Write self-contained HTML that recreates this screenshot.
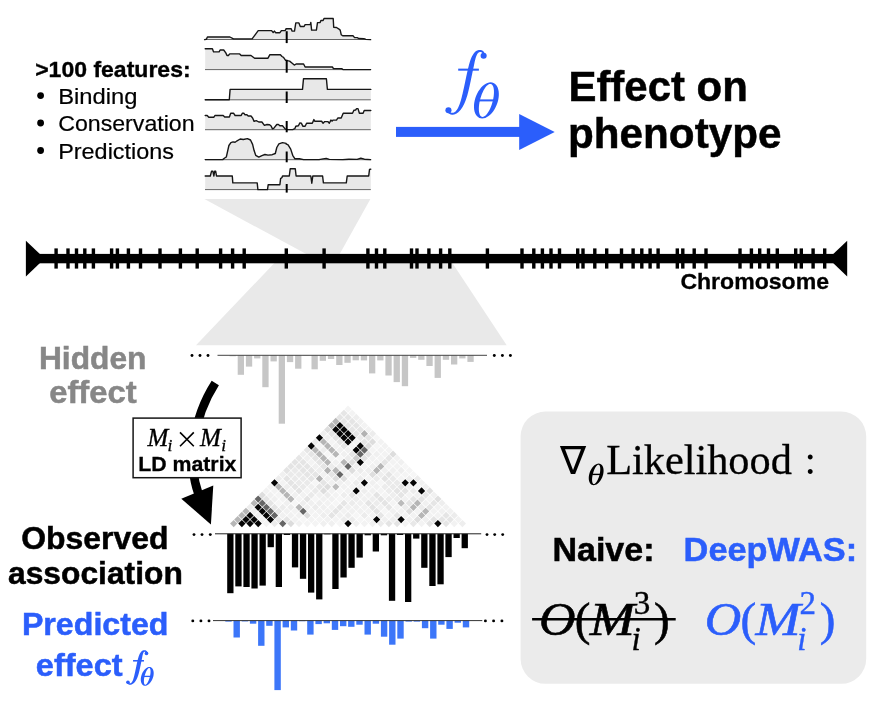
<!DOCTYPE html>
<html><head><meta charset="utf-8"><title>DeepWAS overview</title>
<style>html,body{margin:0;padding:0;background:#fff;}svg{display:block;will-change:transform;}text{white-space:pre;}</style></head><body>
<svg width="873" height="707" viewBox="0 0 873 707">
<rect x="0" y="0" width="873" height="707" fill="#fff"/>
<!-- funnels -->
<polygon points="204.4,199.1 370.4,199.1 337.2,258.5 314.6,258.5" fill="#e9e9e9"/>
<polygon points="278.7,258.5 449.4,258.5 506.7,345.2 196,345.2" fill="#e9e9e9"/>
<!-- tracks -->
<path d="M204.6,39.6 L206.4,39.3 L207.4,37.0 L229.9,37.0 L233.5,38.9 L252.1,38.9 L258.2,30.6 L271.6,30.6 L273.2,32.5 L274.4,31.1 L275.8,32.7 L279.9,32.7 L281.4,30.6 L285.1,30.6 L286.1,28.8 L286.0,28.8 L291.2,28.8 L292.0,31.1 L294.5,31.1 L295.8,22.9 L298.9,22.9 L300.3,26.5 L304.1,26.5 L305.1,24.6 L310.3,24.6 L310.8,22.4 L311.6,30.1 L316.4,30.1 L317.5,22.6 L320.1,22.6 L320.9,20.5 L323.1,20.5 L324.0,18.5 L333.2,18.5 L333.7,27.3 L336.5,27.5 L338.6,28.8 L340.2,30.1 L341.2,34.7 L342.7,35.8 L353.0,35.8 L354.6,37.6 L357.2,37.6 L358.7,38.5 L363.9,38.7 L365.9,39.4 L370.6,39.6 L370.6,39.5 L204.6,39.5 Z" fill="#e8e8e8" stroke="none"/>
<line x1="205.0" y1="39.5" x2="370.8" y2="39.5" stroke="#555" stroke-width="0.9"/>
<path d="M204.6,39.6 L206.4,39.3 L207.4,37.0 L229.9,37.0 L233.5,38.9 L252.1,38.9 L258.2,30.6 L271.6,30.6 L273.2,32.5 L274.4,31.1 L275.8,32.7 L279.9,32.7 L281.4,30.6 L285.1,30.6 L286.1,28.8 L286.0,28.8 L291.2,28.8 L292.0,31.1 L294.5,31.1 L295.8,22.9 L298.9,22.9 L300.3,26.5 L304.1,26.5 L305.1,24.6 L310.3,24.6 L310.8,22.4 L311.6,30.1 L316.4,30.1 L317.5,22.6 L320.1,22.6 L320.9,20.5 L323.1,20.5 L324.0,18.5 L333.2,18.5 L333.7,27.3 L336.5,27.5 L338.6,28.8 L340.2,30.1 L341.2,34.7 L342.7,35.8 L353.0,35.8 L354.6,37.6 L357.2,37.6 L358.7,38.5 L363.9,38.7 L365.9,39.4 L370.6,39.6" fill="none" stroke="#161616" stroke-width="1.4" stroke-linejoin="round" stroke-linecap="round"/>
<path d="M205.2,48.8 L212.4,48.8 L213.6,51.9 L219.1,51.9 L220.1,50.0 L223.7,50.0 L225.8,52.9 L227.0,55.5 L228.4,55.5 L229.7,53.9 L239.7,53.9 L241.2,55.5 L251.0,55.5 L254.6,58.2 L268.0,58.2 L269.9,54.7 L280.4,54.7 L282.0,56.5 L283.5,57.3 L285.6,60.3 L287.1,60.6 L289.6,61.1 L292.2,63.2 L294.3,65.1 L296.1,64.0 L303.6,64.0 L305.1,67.0 L332.4,67.0 L333.5,68.6 L341.7,68.6 L342.9,69.5 L370.6,69.6 L370.6,69.6 L205.2,69.6 Z" fill="#e8e8e8" stroke="none"/>
<line x1="205.0" y1="69.6" x2="370.8" y2="69.6" stroke="#555" stroke-width="0.9"/>
<path d="M205.2,48.8 L212.4,48.8 L213.6,51.9 L219.1,51.9 L220.1,50.0 L223.7,50.0 L225.8,52.9 L227.0,55.5 L228.4,55.5 L229.7,53.9 L239.7,53.9 L241.2,55.5 L251.0,55.5 L254.6,58.2 L268.0,58.2 L269.9,54.7 L280.4,54.7 L282.0,56.5 L283.5,57.3 L285.6,60.3 L287.1,60.6 L289.6,61.1 L292.2,63.2 L294.3,65.1 L296.1,64.0 L303.6,64.0 L305.1,67.0 L332.4,67.0 L333.5,68.6 L341.7,68.6 L342.9,69.5 L370.6,69.6" fill="none" stroke="#161616" stroke-width="1.4" stroke-linejoin="round" stroke-linecap="round"/>
<path d="M205.2,99.8 L229.3,99.8 L230.1,89.4 L302.5,89.4 L303.5,78.7 L326.4,78.7 L327.4,89.4 L370.8,89.4 L370.8,99.8 L205.2,99.8 Z" fill="#e8e8e8" stroke="none"/>
<line x1="205.0" y1="99.8" x2="370.8" y2="99.8" stroke="#555" stroke-width="0.9"/>
<path d="M205.2,99.8 L229.3,99.8 L230.1,89.4 L302.5,89.4 L303.5,78.7 L326.4,78.7 L327.4,89.4 L370.8,89.4" fill="none" stroke="#161616" stroke-width="1.4" stroke-linejoin="round" stroke-linecap="round"/>
<path d="M205.2,115.5 L207.2,115.5 L208.8,117.2 L213.9,117.2 L214.9,115.5 L223.2,115.5 L224.7,117.0 L229.4,117.0 L230.7,113.2 L233.5,113.2 L235.1,115.5 L241.2,115.5 L242.3,113.2 L243.8,113.2 L244.8,114.7 L246.9,114.7 L248.2,116.0 L251.0,116.0 L252.6,118.0 L254.1,121.4 L256.2,120.6 L258.8,122.0 L261.9,122.0 L264.4,125.3 L267.0,124.5 L269.6,124.7 L271.1,126.0 L272.5,128.9 L273.7,128.4 L276.8,124.5 L278.4,124.5 L279.9,125.8 L282.5,125.8 L285.1,128.9 L286.6,129.6 L287.1,129.6 L292.7,129.6 L294.8,128.7 L295.8,126.3 L298.4,125.8 L299.9,122.9 L301.3,123.2 L303.0,126.3 L305.1,126.3 L306.6,123.2 L312.3,123.2 L313.9,119.6 L314.9,121.3 L321.6,121.3 L323.1,123.2 L324.7,121.6 L327.8,121.6 L329.3,123.2 L330.9,120.1 L332.2,121.1 L332.9,120.1 L336.5,120.1 L337.8,118.0 L341.2,118.0 L343.2,113.2 L352.5,113.2 L353.9,110.3 L355.6,110.0 L356.6,108.6 L358.0,108.6 L359.4,113.2 L363.1,113.2 L364.2,110.5 L370.8,110.5 L370.8,129.7 L205.2,129.7 Z" fill="#e8e8e8" stroke="none"/>
<line x1="205.0" y1="129.7" x2="370.8" y2="129.7" stroke="#555" stroke-width="0.9"/>
<path d="M205.2,115.5 L207.2,115.5 L208.8,117.2 L213.9,117.2 L214.9,115.5 L223.2,115.5 L224.7,117.0 L229.4,117.0 L230.7,113.2 L233.5,113.2 L235.1,115.5 L241.2,115.5 L242.3,113.2 L243.8,113.2 L244.8,114.7 L246.9,114.7 L248.2,116.0 L251.0,116.0 L252.6,118.0 L254.1,121.4 L256.2,120.6 L258.8,122.0 L261.9,122.0 L264.4,125.3 L267.0,124.5 L269.6,124.7 L271.1,126.0 L272.5,128.9 L273.7,128.4 L276.8,124.5 L278.4,124.5 L279.9,125.8 L282.5,125.8 L285.1,128.9 L286.6,129.6 L287.1,129.6 L292.7,129.6 L294.8,128.7 L295.8,126.3 L298.4,125.8 L299.9,122.9 L301.3,123.2 L303.0,126.3 L305.1,126.3 L306.6,123.2 L312.3,123.2 L313.9,119.6 L314.9,121.3 L321.6,121.3 L323.1,123.2 L324.7,121.6 L327.8,121.6 L329.3,123.2 L330.9,120.1 L332.2,121.1 L332.9,120.1 L336.5,120.1 L337.8,118.0 L341.2,118.0 L343.2,113.2 L352.5,113.2 L353.9,110.3 L355.6,110.0 L356.6,108.6 L358.0,108.6 L359.4,113.2 L363.1,113.2 L364.2,110.5 L370.8,110.5" fill="none" stroke="#161616" stroke-width="1.4" stroke-linejoin="round" stroke-linecap="round"/>
<path d="M205.2,159.6 L222.7,159.6 L224.7,158.0 L226.3,157.0 L227.3,152.7 L228.9,145.5 L230.9,142.6 L233.0,141.9 L235.1,142.2 L237.1,140.8 L240.2,139.0 L243.3,139.5 L247.4,138.6 L250.5,140.0 L252.6,144.4 L254.1,150.6 L255.7,155.3 L258.8,157.1 L261.9,155.6 L264.9,154.5 L268.0,155.1 L272.2,154.7 L275.3,153.5 L276.8,147.5 L278.9,143.9 L282.5,142.6 L286.1,143.4 L286.0,143.9 L288.1,144.9 L290.7,149.1 L292.7,155.3 L294.8,158.7 L299.4,158.7 L303.6,159.6 L319.0,159.6 L323.1,158.9 L326.2,158.4 L329.3,159.4 L342.7,159.6 L348.9,159.2 L357.2,159.4 L360.8,158.1 L364.4,159.2 L370.6,159.6 L370.6,159.7 L205.2,159.7 Z" fill="#e8e8e8" stroke="none"/>
<line x1="205.0" y1="159.7" x2="370.8" y2="159.7" stroke="#555" stroke-width="0.9"/>
<path d="M205.2,159.6 L222.7,159.6 L224.7,158.0 L226.3,157.0 L227.3,152.7 L228.9,145.5 L230.9,142.6 L233.0,141.9 L235.1,142.2 L237.1,140.8 L240.2,139.0 L243.3,139.5 L247.4,138.6 L250.5,140.0 L252.6,144.4 L254.1,150.6 L255.7,155.3 L258.8,157.1 L261.9,155.6 L264.9,154.5 L268.0,155.1 L272.2,154.7 L275.3,153.5 L276.8,147.5 L278.9,143.9 L282.5,142.6 L286.1,143.4 L286.0,143.9 L288.1,144.9 L290.7,149.1 L292.7,155.3 L294.8,158.7 L299.4,158.7 L303.6,159.6 L319.0,159.6 L323.1,158.9 L326.2,158.4 L329.3,159.4 L342.7,159.6 L348.9,159.2 L357.2,159.4 L360.8,158.1 L364.4,159.2 L370.6,159.6" fill="none" stroke="#161616" stroke-width="1.4" stroke-linejoin="round" stroke-linecap="round"/>
<path d="M205.2,176.0 L210.3,176.0 L211.5,171.3 L212.9,171.3 L213.9,176.0 L214.6,171.3 L215.7,171.3 L216.5,176.0 L232.3,176.0 L232.8,182.9 L257.2,182.9 L257.9,189.6 L267.5,189.6 L268.2,184.7 L279.9,184.7 L280.6,178.6 L282.0,177.5 L282.5,176.0 L285.0,176.0 L289.3,176.0 L290.2,168.8 L295.3,168.8 L296.1,176.0 L310.8,176.0 L311.8,183.2 L312.8,176.0 L322.6,176.0 L323.4,182.9 L346.3,182.9 L347.2,176.0 L368.7,176.0 L369.5,169.5 L370.8,169.1 L370.8,189.6 L205.2,189.6 Z" fill="#e8e8e8" stroke="none"/>
<line x1="205.0" y1="189.6" x2="370.8" y2="189.6" stroke="#555" stroke-width="0.9"/>
<path d="M205.2,176.0 L210.3,176.0 L211.5,171.3 L212.9,171.3 L213.9,176.0 L214.6,171.3 L215.7,171.3 L216.5,176.0 L232.3,176.0 L232.8,182.9 L257.2,182.9 L257.9,189.6 L267.5,189.6 L268.2,184.7 L279.9,184.7 L280.6,178.6 L282.0,177.5 L282.5,176.0 L285.0,176.0 L289.3,176.0 L290.2,168.8 L295.3,168.8 L296.1,176.0 L310.8,176.0 L311.8,183.2 L312.8,176.0 L322.6,176.0 L323.4,182.9 L346.3,182.9 L347.2,176.0 L368.7,176.0 L369.5,169.5 L370.8,169.1" fill="none" stroke="#161616" stroke-width="1.4" stroke-linejoin="round" stroke-linecap="round"/>
<line x1="286.7" y1="31.2" x2="286.7" y2="43.1" stroke="#000" stroke-width="2"/>
<line x1="286.7" y1="59.8" x2="286.7" y2="72.7" stroke="#000" stroke-width="2"/>
<line x1="286.7" y1="91.5" x2="286.7" y2="103.0" stroke="#000" stroke-width="2"/>
<line x1="286.7" y1="121.0" x2="286.7" y2="132.3" stroke="#000" stroke-width="2"/>
<line x1="286.7" y1="151.5" x2="286.7" y2="162.3" stroke="#000" stroke-width="2"/>
<line x1="286.7" y1="184.0" x2="286.7" y2="192.6" stroke="#000" stroke-width="2"/>
<!-- chromosome -->
<rect x="36" y="253.9" width="800" height="9.4" fill="#000"/>
<polygon points="25.9,240.7 44.7,258.6 25.9,276.6" fill="#000"/>
<polygon points="847.2,240.7 828.4,258.6 847.2,276.6" fill="#000"/>
<rect x="54.4" y="248.4" width="3.4" height="20.2" fill="#000"/>
<rect x="66.3" y="248.4" width="3.4" height="20.2" fill="#000"/>
<rect x="74.8" y="248.4" width="3.4" height="20.2" fill="#000"/>
<rect x="83.1" y="248.4" width="3.4" height="20.2" fill="#000"/>
<rect x="91.7" y="248.4" width="3.4" height="20.2" fill="#000"/>
<rect x="109.9" y="248.4" width="3.4" height="20.2" fill="#000"/>
<rect x="115.7" y="248.4" width="3.4" height="20.2" fill="#000"/>
<rect x="126.7" y="248.4" width="3.4" height="20.2" fill="#000"/>
<rect x="138.8" y="248.4" width="3.4" height="20.2" fill="#000"/>
<rect x="158.3" y="248.4" width="3.4" height="20.2" fill="#000"/>
<rect x="178.7" y="248.4" width="3.4" height="20.2" fill="#000"/>
<rect x="195.5" y="248.4" width="3.4" height="20.2" fill="#000"/>
<rect x="218.9" y="248.4" width="3.4" height="20.2" fill="#000"/>
<rect x="230.9" y="248.4" width="3.4" height="20.2" fill="#000"/>
<rect x="242.5" y="248.4" width="3.4" height="20.2" fill="#000"/>
<rect x="284.6" y="248.4" width="3.4" height="20.2" fill="#000"/>
<rect x="322.4" y="248.4" width="3.4" height="20.2" fill="#000"/>
<rect x="366.2" y="248.4" width="3.4" height="20.2" fill="#000"/>
<rect x="374.8" y="248.4" width="3.4" height="20.2" fill="#000"/>
<rect x="383.1" y="248.4" width="3.4" height="20.2" fill="#000"/>
<rect x="409.8" y="248.4" width="3.4" height="20.2" fill="#000"/>
<rect x="415.3" y="248.4" width="3.4" height="20.2" fill="#000"/>
<rect x="427.2" y="248.4" width="3.4" height="20.2" fill="#000"/>
<rect x="438.9" y="248.4" width="3.4" height="20.2" fill="#000"/>
<rect x="448.1" y="248.4" width="3.4" height="20.2" fill="#000"/>
<rect x="485.7" y="248.4" width="3.4" height="20.2" fill="#000"/>
<rect x="520.3" y="248.4" width="3.4" height="20.2" fill="#000"/>
<rect x="532.1" y="248.4" width="3.4" height="20.2" fill="#000"/>
<rect x="540.7" y="248.4" width="3.4" height="20.2" fill="#000"/>
<rect x="549.3" y="248.4" width="3.4" height="20.2" fill="#000"/>
<rect x="557.8" y="248.4" width="3.4" height="20.2" fill="#000"/>
<rect x="576.0" y="248.4" width="3.4" height="20.2" fill="#000"/>
<rect x="581.3" y="248.4" width="3.4" height="20.2" fill="#000"/>
<rect x="593.1" y="248.4" width="3.4" height="20.2" fill="#000"/>
<rect x="605.0" y="248.4" width="3.4" height="20.2" fill="#000"/>
<rect x="619.8" y="248.4" width="3.4" height="20.2" fill="#000"/>
<rect x="631.4" y="248.4" width="3.4" height="20.2" fill="#000"/>
<rect x="640.1" y="248.4" width="3.4" height="20.2" fill="#000"/>
<rect x="648.4" y="248.4" width="3.4" height="20.2" fill="#000"/>
<rect x="656.4" y="248.4" width="3.4" height="20.2" fill="#000"/>
<rect x="675.6" y="248.4" width="3.4" height="20.2" fill="#000"/>
<rect x="681.1" y="248.4" width="3.4" height="20.2" fill="#000"/>
<rect x="692.5" y="248.4" width="3.4" height="20.2" fill="#000"/>
<rect x="704.3" y="248.4" width="3.4" height="20.2" fill="#000"/>
<rect x="738.3" y="248.4" width="3.4" height="20.2" fill="#000"/>
<rect x="749.7" y="248.4" width="3.4" height="20.2" fill="#000"/>
<rect x="758.0" y="248.4" width="3.4" height="20.2" fill="#000"/>
<rect x="766.8" y="248.4" width="3.4" height="20.2" fill="#000"/>
<rect x="775.6" y="248.4" width="3.4" height="20.2" fill="#000"/>
<rect x="794.0" y="248.4" width="3.4" height="20.2" fill="#000"/>
<rect x="799.6" y="248.4" width="3.4" height="20.2" fill="#000"/>
<rect x="811.4" y="248.4" width="3.4" height="20.2" fill="#000"/>
<rect x="823.0" y="248.4" width="3.4" height="20.2" fill="#000"/>
<!-- bars -->
<rect x="229.5" y="355.3" width="6.3" height="1.0" fill="#c6c6c6"/>
<rect x="237.7" y="355.3" width="6.3" height="19.5" fill="#c6c6c6"/>
<rect x="245.9" y="355.3" width="6.3" height="11.3" fill="#c6c6c6"/>
<rect x="254.1" y="355.3" width="6.3" height="3.1" fill="#c6c6c6"/>
<rect x="262.3" y="355.3" width="6.3" height="31.9" fill="#c6c6c6"/>
<rect x="270.5" y="355.3" width="6.3" height="6.1" fill="#c6c6c6"/>
<rect x="278.7" y="355.3" width="6.3" height="68.4" fill="#c6c6c6"/>
<rect x="286.9" y="355.3" width="6.3" height="6.8" fill="#c6c6c6"/>
<rect x="295.1" y="355.3" width="6.3" height="13.4" fill="#c6c6c6"/>
<rect x="303.3" y="355.3" width="6.3" height="0.5" fill="#c6c6c6"/>
<rect x="311.5" y="355.3" width="6.3" height="14.0" fill="#c6c6c6"/>
<rect x="319.7" y="355.3" width="6.3" height="5.5" fill="#c6c6c6"/>
<rect x="327.9" y="355.3" width="6.3" height="3.7" fill="#c6c6c6"/>
<rect x="336.2" y="355.3" width="6.3" height="9.7" fill="#c6c6c6"/>
<rect x="344.4" y="355.3" width="6.3" height="7.5" fill="#c6c6c6"/>
<rect x="352.6" y="355.3" width="6.3" height="5.0" fill="#c6c6c6"/>
<rect x="360.8" y="355.3" width="6.3" height="5.1" fill="#c6c6c6"/>
<rect x="369.0" y="355.3" width="6.3" height="18.1" fill="#c6c6c6"/>
<rect x="377.2" y="355.3" width="6.3" height="5.1" fill="#c6c6c6"/>
<rect x="385.4" y="355.3" width="6.3" height="20.2" fill="#c6c6c6"/>
<rect x="393.6" y="355.3" width="6.3" height="26.8" fill="#c6c6c6"/>
<rect x="401.8" y="355.3" width="6.3" height="30.9" fill="#c6c6c6"/>
<rect x="410.0" y="355.3" width="6.3" height="2.6" fill="#c6c6c6"/>
<rect x="418.2" y="355.3" width="6.3" height="4.5" fill="#c6c6c6"/>
<rect x="426.4" y="355.3" width="6.3" height="10.7" fill="#c6c6c6"/>
<rect x="434.6" y="355.3" width="6.3" height="22.6" fill="#c6c6c6"/>
<rect x="442.8" y="355.3" width="6.3" height="4.5" fill="#c6c6c6"/>
<rect x="451.0" y="355.3" width="6.3" height="9.2" fill="#c6c6c6"/>
<rect x="459.2" y="355.3" width="6.3" height="3.1" fill="#c6c6c6"/>
<rect x="467.4" y="355.3" width="6.3" height="6.6" fill="#c6c6c6"/>
<line x1="217.5" y1="355.3" x2="487" y2="355.3" stroke="#444" stroke-width="1"/>
<circle cx="192.0" cy="355.5" r="1.45" fill="#000"/>
<circle cx="200.0" cy="355.5" r="1.45" fill="#000"/>
<circle cx="208.0" cy="355.5" r="1.45" fill="#000"/>
<circle cx="494.3" cy="355.5" r="1.45" fill="#000"/>
<circle cx="502.4" cy="355.5" r="1.45" fill="#000"/>
<circle cx="510.4" cy="355.5" r="1.45" fill="#000"/>
<rect x="227.2" y="533.8" width="6.3" height="59.4" fill="#000"/>
<rect x="235.3" y="533.8" width="6.3" height="52.6" fill="#000"/>
<rect x="243.4" y="533.8" width="6.3" height="53.2" fill="#000"/>
<rect x="251.4" y="533.8" width="6.3" height="54.7" fill="#000"/>
<rect x="259.5" y="533.8" width="6.3" height="51.8" fill="#000"/>
<rect x="267.6" y="533.8" width="6.3" height="13.4" fill="#000"/>
<rect x="275.7" y="533.8" width="6.3" height="53.2" fill="#000"/>
<rect x="283.8" y="533.8" width="6.3" height="1.2" fill="#000"/>
<rect x="291.9" y="533.8" width="6.3" height="33.6" fill="#000"/>
<rect x="299.9" y="533.8" width="6.3" height="45.0" fill="#000"/>
<rect x="308.0" y="533.8" width="6.3" height="58.8" fill="#000"/>
<rect x="316.1" y="533.8" width="6.3" height="65.6" fill="#000"/>
<rect x="324.2" y="533.8" width="6.3" height="0.5" fill="#000"/>
<rect x="332.3" y="533.8" width="6.3" height="55.2" fill="#000"/>
<rect x="340.4" y="533.8" width="6.3" height="43.7" fill="#000"/>
<rect x="348.4" y="533.8" width="6.3" height="34.0" fill="#000"/>
<rect x="356.5" y="533.8" width="6.3" height="23.8" fill="#000"/>
<rect x="364.6" y="533.8" width="6.3" height="1.5" fill="#000"/>
<rect x="372.7" y="533.8" width="6.3" height="17.7" fill="#000"/>
<rect x="380.8" y="533.8" width="6.3" height="1.5" fill="#000"/>
<rect x="388.9" y="533.8" width="6.3" height="67.0" fill="#000"/>
<rect x="396.9" y="533.8" width="6.3" height="1.2" fill="#000"/>
<rect x="405.0" y="533.8" width="6.3" height="68.2" fill="#000"/>
<rect x="413.1" y="533.8" width="6.3" height="4.8" fill="#000"/>
<rect x="421.2" y="533.8" width="6.3" height="34.0" fill="#000"/>
<rect x="429.3" y="533.8" width="6.3" height="52.2" fill="#000"/>
<rect x="437.4" y="533.8" width="6.3" height="50.5" fill="#000"/>
<rect x="445.4" y="533.8" width="6.3" height="23.3" fill="#000"/>
<rect x="453.5" y="533.8" width="6.3" height="4.2" fill="#000"/>
<rect x="461.6" y="533.8" width="6.3" height="14.4" fill="#000"/>
<line x1="215" y1="533.8" x2="481.2" y2="533.8" stroke="#222" stroke-width="1"/>
<circle cx="194.0" cy="534.6" r="1.45" fill="#000"/>
<circle cx="202.0" cy="534.6" r="1.45" fill="#000"/>
<circle cx="210.3" cy="534.6" r="1.45" fill="#000"/>
<circle cx="487.0" cy="534.6" r="1.45" fill="#000"/>
<circle cx="494.7" cy="534.6" r="1.45" fill="#000"/>
<circle cx="502.7" cy="534.6" r="1.45" fill="#000"/>
<rect x="225.3" y="620.6" width="6.4" height="1.0" fill="#3c76f9"/>
<rect x="233.5" y="620.6" width="6.4" height="16.9" fill="#3c76f9"/>
<rect x="241.7" y="620.6" width="6.4" height="0.8" fill="#3c76f9"/>
<rect x="249.9" y="620.6" width="6.4" height="3.1" fill="#3c76f9"/>
<rect x="258.1" y="620.6" width="6.4" height="25.2" fill="#3c76f9"/>
<rect x="266.2" y="620.6" width="6.4" height="5.2" fill="#3c76f9"/>
<rect x="274.4" y="620.6" width="6.4" height="69.5" fill="#3c76f9"/>
<rect x="282.6" y="620.6" width="6.4" height="6.8" fill="#3c76f9"/>
<rect x="290.8" y="620.6" width="6.4" height="9.9" fill="#3c76f9"/>
<rect x="299.0" y="620.6" width="6.4" height="0.6" fill="#3c76f9"/>
<rect x="307.2" y="620.6" width="6.4" height="14.0" fill="#3c76f9"/>
<rect x="315.4" y="620.6" width="6.4" height="3.5" fill="#3c76f9"/>
<rect x="323.6" y="620.6" width="6.4" height="2.7" fill="#3c76f9"/>
<rect x="331.8" y="620.6" width="6.4" height="9.3" fill="#3c76f9"/>
<rect x="340.0" y="620.6" width="6.4" height="5.6" fill="#3c76f9"/>
<rect x="348.1" y="620.6" width="6.4" height="6.2" fill="#3c76f9"/>
<rect x="356.3" y="620.6" width="6.4" height="4.1" fill="#3c76f9"/>
<rect x="364.5" y="620.6" width="6.4" height="14.0" fill="#3c76f9"/>
<rect x="372.7" y="620.6" width="6.4" height="3.1" fill="#3c76f9"/>
<rect x="380.9" y="620.6" width="6.4" height="16.1" fill="#3c76f9"/>
<rect x="389.1" y="620.6" width="6.4" height="24.1" fill="#3c76f9"/>
<rect x="397.3" y="620.6" width="6.4" height="18.0" fill="#3c76f9"/>
<rect x="405.5" y="620.6" width="6.4" height="1.0" fill="#3c76f9"/>
<rect x="413.7" y="620.6" width="6.4" height="1.0" fill="#3c76f9"/>
<rect x="421.9" y="620.6" width="6.4" height="7.6" fill="#3c76f9"/>
<rect x="430.1" y="620.6" width="6.4" height="18.0" fill="#3c76f9"/>
<rect x="438.2" y="620.6" width="6.4" height="4.1" fill="#3c76f9"/>
<rect x="446.4" y="620.6" width="6.4" height="8.3" fill="#3c76f9"/>
<rect x="454.6" y="620.6" width="6.4" height="2.1" fill="#3c76f9"/>
<rect x="462.8" y="620.6" width="6.4" height="6.8" fill="#3c76f9"/>
<line x1="213" y1="620.6" x2="482.3" y2="620.6" stroke="#333" stroke-width="1"/>
<circle cx="192.8" cy="620.9" r="1.45" fill="#000"/>
<circle cx="200.9" cy="620.9" r="1.45" fill="#000"/>
<circle cx="209.0" cy="620.9" r="1.45" fill="#000"/>
<circle cx="485.4" cy="620.9" r="1.45" fill="#000"/>
<circle cx="493.6" cy="620.9" r="1.45" fill="#000"/>
<circle cx="501.9" cy="620.9" r="1.45" fill="#000"/>
<!-- LD matrix -->
<path d="M233.70,519.97 l3.63,3.63 l-3.63,3.63 l-3.63,-3.63 Z" fill="#b6b6b6"/>
<path d="M237.78,515.88 l3.63,3.63 l-3.63,3.63 l-3.63,-3.63 Z" fill="#b6b6b6"/>
<path d="M241.87,511.80 l3.63,3.63 l-3.63,3.63 l-3.63,-3.63 Z" fill="#b6b6b6"/>
<path d="M245.95,507.71 l3.63,3.63 l-3.63,3.63 l-3.63,-3.63 Z" fill="#b6b6b6"/>
<path d="M250.04,503.63 l3.63,3.63 l-3.63,3.63 l-3.63,-3.63 Z" fill="#ececec"/>
<path d="M254.12,499.55 l3.63,3.63 l-3.63,3.63 l-3.63,-3.63 Z" fill="#b6b6b6"/>
<path d="M258.20,495.46 l3.63,3.63 l-3.63,3.63 l-3.63,-3.63 Z" fill="#666666"/>
<path d="M262.29,491.38 l3.63,3.63 l-3.63,3.63 l-3.63,-3.63 Z" fill="#dedede"/>
<path d="M266.37,487.29 l3.63,3.63 l-3.63,3.63 l-3.63,-3.63 Z" fill="#f2f2f2"/>
<path d="M270.46,483.21 l3.63,3.63 l-3.63,3.63 l-3.63,-3.63 Z" fill="#f3f3f3"/>
<path d="M274.54,479.13 l3.63,3.63 l-3.63,3.63 l-3.63,-3.63 Z" fill="#050505"/>
<path d="M278.62,475.04 l3.63,3.63 l-3.63,3.63 l-3.63,-3.63 Z" fill="#eeeeee"/>
<path d="M282.71,470.96 l3.63,3.63 l-3.63,3.63 l-3.63,-3.63 Z" fill="#f0f0f0"/>
<path d="M286.79,466.87 l3.63,3.63 l-3.63,3.63 l-3.63,-3.63 Z" fill="#e4e4e4"/>
<path d="M290.88,462.79 l3.63,3.63 l-3.63,3.63 l-3.63,-3.63 Z" fill="#e4e4e4"/>
<path d="M294.96,458.71 l3.63,3.63 l-3.63,3.63 l-3.63,-3.63 Z" fill="#e4e4e4"/>
<path d="M299.04,454.62 l3.63,3.63 l-3.63,3.63 l-3.63,-3.63 Z" fill="#e6e6e6"/>
<path d="M303.13,450.54 l3.63,3.63 l-3.63,3.63 l-3.63,-3.63 Z" fill="#f0f0f0"/>
<path d="M307.21,446.45 l3.63,3.63 l-3.63,3.63 l-3.63,-3.63 Z" fill="#e6e6e6"/>
<path d="M311.30,442.37 l3.63,3.63 l-3.63,3.63 l-3.63,-3.63 Z" fill="#050505"/>
<path d="M315.38,438.29 l3.63,3.63 l-3.63,3.63 l-3.63,-3.63 Z" fill="#ececec"/>
<path d="M319.46,434.20 l3.63,3.63 l-3.63,3.63 l-3.63,-3.63 Z" fill="#050505"/>
<path d="M323.55,430.12 l3.63,3.63 l-3.63,3.63 l-3.63,-3.63 Z" fill="#eeeeee"/>
<path d="M327.63,426.03 l3.63,3.63 l-3.63,3.63 l-3.63,-3.63 Z" fill="#dedede"/>
<path d="M331.72,421.95 l3.63,3.63 l-3.63,3.63 l-3.63,-3.63 Z" fill="#b6b6b6"/>
<path d="M335.80,417.87 l3.63,3.63 l-3.63,3.63 l-3.63,-3.63 Z" fill="#b6b6b6"/>
<path d="M339.88,413.78 l3.63,3.63 l-3.63,3.63 l-3.63,-3.63 Z" fill="#e4e4e4"/>
<path d="M343.97,409.70 l3.63,3.63 l-3.63,3.63 l-3.63,-3.63 Z" fill="#e6e6e6"/>
<path d="M348.05,405.61 l3.63,3.63 l-3.63,3.63 l-3.63,-3.63 Z" fill="#f4f4f4"/>
<path d="M241.87,519.97 l3.63,3.63 l-3.63,3.63 l-3.63,-3.63 Z" fill="#050505"/>
<path d="M245.95,515.88 l3.63,3.63 l-3.63,3.63 l-3.63,-3.63 Z" fill="#050505"/>
<path d="M250.04,511.80 l3.63,3.63 l-3.63,3.63 l-3.63,-3.63 Z" fill="#050505"/>
<path d="M254.12,507.71 l3.63,3.63 l-3.63,3.63 l-3.63,-3.63 Z" fill="#eeeeee"/>
<path d="M258.20,503.63 l3.63,3.63 l-3.63,3.63 l-3.63,-3.63 Z" fill="#050505"/>
<path d="M262.29,499.55 l3.63,3.63 l-3.63,3.63 l-3.63,-3.63 Z" fill="#666666"/>
<path d="M266.37,495.46 l3.63,3.63 l-3.63,3.63 l-3.63,-3.63 Z" fill="#e5e5e5"/>
<path d="M270.46,491.38 l3.63,3.63 l-3.63,3.63 l-3.63,-3.63 Z" fill="#f0f0f0"/>
<path d="M274.54,487.29 l3.63,3.63 l-3.63,3.63 l-3.63,-3.63 Z" fill="#f3f3f3"/>
<path d="M278.62,483.21 l3.63,3.63 l-3.63,3.63 l-3.63,-3.63 Z" fill="#b6b6b6"/>
<path d="M282.71,479.13 l3.63,3.63 l-3.63,3.63 l-3.63,-3.63 Z" fill="#f3f3f3"/>
<path d="M286.79,475.04 l3.63,3.63 l-3.63,3.63 l-3.63,-3.63 Z" fill="#e4e4e4"/>
<path d="M290.88,470.96 l3.63,3.63 l-3.63,3.63 l-3.63,-3.63 Z" fill="#eaeaea"/>
<path d="M294.96,466.87 l3.63,3.63 l-3.63,3.63 l-3.63,-3.63 Z" fill="#eaeaea"/>
<path d="M299.04,462.79 l3.63,3.63 l-3.63,3.63 l-3.63,-3.63 Z" fill="#e5e5e5"/>
<path d="M303.13,458.71 l3.63,3.63 l-3.63,3.63 l-3.63,-3.63 Z" fill="#e5e5e5"/>
<path d="M307.21,454.62 l3.63,3.63 l-3.63,3.63 l-3.63,-3.63 Z" fill="#f0f0f0"/>
<path d="M311.30,450.54 l3.63,3.63 l-3.63,3.63 l-3.63,-3.63 Z" fill="#e5e5e5"/>
<path d="M315.38,446.45 l3.63,3.63 l-3.63,3.63 l-3.63,-3.63 Z" fill="#b6b6b6"/>
<path d="M319.46,442.37 l3.63,3.63 l-3.63,3.63 l-3.63,-3.63 Z" fill="#f4f4f4"/>
<path d="M323.55,438.29 l3.63,3.63 l-3.63,3.63 l-3.63,-3.63 Z" fill="#b6b6b6"/>
<path d="M327.63,434.20 l3.63,3.63 l-3.63,3.63 l-3.63,-3.63 Z" fill="#f0f0f0"/>
<path d="M331.72,430.12 l3.63,3.63 l-3.63,3.63 l-3.63,-3.63 Z" fill="#e5e5e5"/>
<path d="M335.80,426.03 l3.63,3.63 l-3.63,3.63 l-3.63,-3.63 Z" fill="#050505"/>
<path d="M339.88,421.95 l3.63,3.63 l-3.63,3.63 l-3.63,-3.63 Z" fill="#050505"/>
<path d="M343.97,417.87 l3.63,3.63 l-3.63,3.63 l-3.63,-3.63 Z" fill="#e5e5e5"/>
<path d="M348.05,413.78 l3.63,3.63 l-3.63,3.63 l-3.63,-3.63 Z" fill="#e5e5e5"/>
<path d="M352.14,409.70 l3.63,3.63 l-3.63,3.63 l-3.63,-3.63 Z" fill="#f3f3f3"/>
<path d="M250.04,519.97 l3.63,3.63 l-3.63,3.63 l-3.63,-3.63 Z" fill="#050505"/>
<path d="M254.12,515.88 l3.63,3.63 l-3.63,3.63 l-3.63,-3.63 Z" fill="#050505"/>
<path d="M258.20,511.80 l3.63,3.63 l-3.63,3.63 l-3.63,-3.63 Z" fill="#eeeeee"/>
<path d="M262.29,507.71 l3.63,3.63 l-3.63,3.63 l-3.63,-3.63 Z" fill="#050505"/>
<path d="M266.37,503.63 l3.63,3.63 l-3.63,3.63 l-3.63,-3.63 Z" fill="#666666"/>
<path d="M270.46,499.55 l3.63,3.63 l-3.63,3.63 l-3.63,-3.63 Z" fill="#e5e5e5"/>
<path d="M274.54,495.46 l3.63,3.63 l-3.63,3.63 l-3.63,-3.63 Z" fill="#f0f0f0"/>
<path d="M278.62,491.38 l3.63,3.63 l-3.63,3.63 l-3.63,-3.63 Z" fill="#f4f4f4"/>
<path d="M282.71,487.29 l3.63,3.63 l-3.63,3.63 l-3.63,-3.63 Z" fill="#b6b6b6"/>
<path d="M286.79,483.21 l3.63,3.63 l-3.63,3.63 l-3.63,-3.63 Z" fill="#eeeeee"/>
<path d="M290.88,479.13 l3.63,3.63 l-3.63,3.63 l-3.63,-3.63 Z" fill="#e4e4e4"/>
<path d="M294.96,475.04 l3.63,3.63 l-3.63,3.63 l-3.63,-3.63 Z" fill="#eaeaea"/>
<path d="M299.04,470.96 l3.63,3.63 l-3.63,3.63 l-3.63,-3.63 Z" fill="#eaeaea"/>
<path d="M303.13,466.87 l3.63,3.63 l-3.63,3.63 l-3.63,-3.63 Z" fill="#e5e5e5"/>
<path d="M307.21,462.79 l3.63,3.63 l-3.63,3.63 l-3.63,-3.63 Z" fill="#e5e5e5"/>
<path d="M311.30,458.71 l3.63,3.63 l-3.63,3.63 l-3.63,-3.63 Z" fill="#f3f3f3"/>
<path d="M315.38,454.62 l3.63,3.63 l-3.63,3.63 l-3.63,-3.63 Z" fill="#e5e5e5"/>
<path d="M319.46,450.54 l3.63,3.63 l-3.63,3.63 l-3.63,-3.63 Z" fill="#b6b6b6"/>
<path d="M323.55,446.45 l3.63,3.63 l-3.63,3.63 l-3.63,-3.63 Z" fill="#eeeeee"/>
<path d="M327.63,442.37 l3.63,3.63 l-3.63,3.63 l-3.63,-3.63 Z" fill="#b6b6b6"/>
<path d="M331.72,438.29 l3.63,3.63 l-3.63,3.63 l-3.63,-3.63 Z" fill="#f4f4f4"/>
<path d="M335.80,434.20 l3.63,3.63 l-3.63,3.63 l-3.63,-3.63 Z" fill="#e5e5e5"/>
<path d="M339.88,430.12 l3.63,3.63 l-3.63,3.63 l-3.63,-3.63 Z" fill="#050505"/>
<path d="M343.97,426.03 l3.63,3.63 l-3.63,3.63 l-3.63,-3.63 Z" fill="#050505"/>
<path d="M348.05,421.95 l3.63,3.63 l-3.63,3.63 l-3.63,-3.63 Z" fill="#e5e5e5"/>
<path d="M352.14,417.87 l3.63,3.63 l-3.63,3.63 l-3.63,-3.63 Z" fill="#e5e5e5"/>
<path d="M356.22,413.78 l3.63,3.63 l-3.63,3.63 l-3.63,-3.63 Z" fill="#eeeeee"/>
<path d="M258.20,519.97 l3.63,3.63 l-3.63,3.63 l-3.63,-3.63 Z" fill="#050505"/>
<path d="M262.29,515.88 l3.63,3.63 l-3.63,3.63 l-3.63,-3.63 Z" fill="#f2f2f2"/>
<path d="M266.37,511.80 l3.63,3.63 l-3.63,3.63 l-3.63,-3.63 Z" fill="#050505"/>
<path d="M270.46,507.71 l3.63,3.63 l-3.63,3.63 l-3.63,-3.63 Z" fill="#666666"/>
<path d="M274.54,503.63 l3.63,3.63 l-3.63,3.63 l-3.63,-3.63 Z" fill="#e5e5e5"/>
<path d="M278.62,499.55 l3.63,3.63 l-3.63,3.63 l-3.63,-3.63 Z" fill="#f6f6f6"/>
<path d="M282.71,495.46 l3.63,3.63 l-3.63,3.63 l-3.63,-3.63 Z" fill="#f3f3f3"/>
<path d="M286.79,491.38 l3.63,3.63 l-3.63,3.63 l-3.63,-3.63 Z" fill="#b6b6b6"/>
<path d="M290.88,487.29 l3.63,3.63 l-3.63,3.63 l-3.63,-3.63 Z" fill="#f2f2f2"/>
<path d="M294.96,483.21 l3.63,3.63 l-3.63,3.63 l-3.63,-3.63 Z" fill="#e4e4e4"/>
<path d="M299.04,479.13 l3.63,3.63 l-3.63,3.63 l-3.63,-3.63 Z" fill="#eaeaea"/>
<path d="M303.13,475.04 l3.63,3.63 l-3.63,3.63 l-3.63,-3.63 Z" fill="#eaeaea"/>
<path d="M307.21,470.96 l3.63,3.63 l-3.63,3.63 l-3.63,-3.63 Z" fill="#e5e5e5"/>
<path d="M311.30,466.87 l3.63,3.63 l-3.63,3.63 l-3.63,-3.63 Z" fill="#e5e5e5"/>
<path d="M315.38,462.79 l3.63,3.63 l-3.63,3.63 l-3.63,-3.63 Z" fill="#f0f0f0"/>
<path d="M319.46,458.71 l3.63,3.63 l-3.63,3.63 l-3.63,-3.63 Z" fill="#e5e5e5"/>
<path d="M323.55,454.62 l3.63,3.63 l-3.63,3.63 l-3.63,-3.63 Z" fill="#b6b6b6"/>
<path d="M327.63,450.54 l3.63,3.63 l-3.63,3.63 l-3.63,-3.63 Z" fill="#f6f6f6"/>
<path d="M331.72,446.45 l3.63,3.63 l-3.63,3.63 l-3.63,-3.63 Z" fill="#b6b6b6"/>
<path d="M335.80,442.37 l3.63,3.63 l-3.63,3.63 l-3.63,-3.63 Z" fill="#f2f2f2"/>
<path d="M339.88,438.29 l3.63,3.63 l-3.63,3.63 l-3.63,-3.63 Z" fill="#e5e5e5"/>
<path d="M343.97,434.20 l3.63,3.63 l-3.63,3.63 l-3.63,-3.63 Z" fill="#050505"/>
<path d="M348.05,430.12 l3.63,3.63 l-3.63,3.63 l-3.63,-3.63 Z" fill="#050505"/>
<path d="M352.14,426.03 l3.63,3.63 l-3.63,3.63 l-3.63,-3.63 Z" fill="#e5e5e5"/>
<path d="M356.22,421.95 l3.63,3.63 l-3.63,3.63 l-3.63,-3.63 Z" fill="#e5e5e5"/>
<path d="M360.30,417.87 l3.63,3.63 l-3.63,3.63 l-3.63,-3.63 Z" fill="#f0f0f0"/>
<path d="M266.37,519.97 l3.63,3.63 l-3.63,3.63 l-3.63,-3.63 Z" fill="#f4f4f4"/>
<path d="M270.46,515.88 l3.63,3.63 l-3.63,3.63 l-3.63,-3.63 Z" fill="#050505"/>
<path d="M274.54,511.80 l3.63,3.63 l-3.63,3.63 l-3.63,-3.63 Z" fill="#666666"/>
<path d="M278.62,507.71 l3.63,3.63 l-3.63,3.63 l-3.63,-3.63 Z" fill="#e5e5e5"/>
<path d="M282.71,503.63 l3.63,3.63 l-3.63,3.63 l-3.63,-3.63 Z" fill="#ececec"/>
<path d="M286.79,499.55 l3.63,3.63 l-3.63,3.63 l-3.63,-3.63 Z" fill="#f0f0f0"/>
<path d="M290.88,495.46 l3.63,3.63 l-3.63,3.63 l-3.63,-3.63 Z" fill="#b6b6b6"/>
<path d="M294.96,491.38 l3.63,3.63 l-3.63,3.63 l-3.63,-3.63 Z" fill="#f0f0f0"/>
<path d="M299.04,487.29 l3.63,3.63 l-3.63,3.63 l-3.63,-3.63 Z" fill="#e4e4e4"/>
<path d="M303.13,483.21 l3.63,3.63 l-3.63,3.63 l-3.63,-3.63 Z" fill="#eaeaea"/>
<path d="M307.21,479.13 l3.63,3.63 l-3.63,3.63 l-3.63,-3.63 Z" fill="#eaeaea"/>
<path d="M311.30,475.04 l3.63,3.63 l-3.63,3.63 l-3.63,-3.63 Z" fill="#e5e5e5"/>
<path d="M315.38,470.96 l3.63,3.63 l-3.63,3.63 l-3.63,-3.63 Z" fill="#e5e5e5"/>
<path d="M319.46,466.87 l3.63,3.63 l-3.63,3.63 l-3.63,-3.63 Z" fill="#eeeeee"/>
<path d="M323.55,462.79 l3.63,3.63 l-3.63,3.63 l-3.63,-3.63 Z" fill="#e5e5e5"/>
<path d="M327.63,458.71 l3.63,3.63 l-3.63,3.63 l-3.63,-3.63 Z" fill="#b6b6b6"/>
<path d="M331.72,454.62 l3.63,3.63 l-3.63,3.63 l-3.63,-3.63 Z" fill="#f4f4f4"/>
<path d="M335.80,450.54 l3.63,3.63 l-3.63,3.63 l-3.63,-3.63 Z" fill="#b6b6b6"/>
<path d="M339.88,446.45 l3.63,3.63 l-3.63,3.63 l-3.63,-3.63 Z" fill="#f1f1f1"/>
<path d="M343.97,442.37 l3.63,3.63 l-3.63,3.63 l-3.63,-3.63 Z" fill="#e5e5e5"/>
<path d="M348.05,438.29 l3.63,3.63 l-3.63,3.63 l-3.63,-3.63 Z" fill="#050505"/>
<path d="M352.14,434.20 l3.63,3.63 l-3.63,3.63 l-3.63,-3.63 Z" fill="#050505"/>
<path d="M356.22,430.12 l3.63,3.63 l-3.63,3.63 l-3.63,-3.63 Z" fill="#e5e5e5"/>
<path d="M360.30,426.03 l3.63,3.63 l-3.63,3.63 l-3.63,-3.63 Z" fill="#e5e5e5"/>
<path d="M364.39,421.95 l3.63,3.63 l-3.63,3.63 l-3.63,-3.63 Z" fill="#f3f3f3"/>
<path d="M274.54,519.97 l3.63,3.63 l-3.63,3.63 l-3.63,-3.63 Z" fill="#ececec"/>
<path d="M278.62,515.88 l3.63,3.63 l-3.63,3.63 l-3.63,-3.63 Z" fill="#e8e8e8"/>
<path d="M282.71,511.80 l3.63,3.63 l-3.63,3.63 l-3.63,-3.63 Z" fill="#f1f1f1"/>
<path d="M286.79,507.71 l3.63,3.63 l-3.63,3.63 l-3.63,-3.63 Z" fill="#f1f1f1"/>
<path d="M290.88,503.63 l3.63,3.63 l-3.63,3.63 l-3.63,-3.63 Z" fill="#ececec"/>
<path d="M294.96,499.55 l3.63,3.63 l-3.63,3.63 l-3.63,-3.63 Z" fill="#f6f6f6"/>
<path d="M299.04,495.46 l3.63,3.63 l-3.63,3.63 l-3.63,-3.63 Z" fill="#f4f4f4"/>
<path d="M303.13,491.38 l3.63,3.63 l-3.63,3.63 l-3.63,-3.63 Z" fill="#f2f2f2"/>
<path d="M307.21,487.29 l3.63,3.63 l-3.63,3.63 l-3.63,-3.63 Z" fill="#f4f4f4"/>
<path d="M311.30,483.21 l3.63,3.63 l-3.63,3.63 l-3.63,-3.63 Z" fill="#f0f0f0"/>
<path d="M315.38,479.13 l3.63,3.63 l-3.63,3.63 l-3.63,-3.63 Z" fill="#f6f6f6"/>
<path d="M319.46,475.04 l3.63,3.63 l-3.63,3.63 l-3.63,-3.63 Z" fill="#b2b2b2"/>
<path d="M323.55,470.96 l3.63,3.63 l-3.63,3.63 l-3.63,-3.63 Z" fill="#f1f1f1"/>
<path d="M327.63,466.87 l3.63,3.63 l-3.63,3.63 l-3.63,-3.63 Z" fill="#b2b2b2"/>
<path d="M331.72,462.79 l3.63,3.63 l-3.63,3.63 l-3.63,-3.63 Z" fill="#ececec"/>
<path d="M335.80,458.71 l3.63,3.63 l-3.63,3.63 l-3.63,-3.63 Z" fill="#f1f1f1"/>
<path d="M339.88,454.62 l3.63,3.63 l-3.63,3.63 l-3.63,-3.63 Z" fill="#f6f6f6"/>
<path d="M343.97,450.54 l3.63,3.63 l-3.63,3.63 l-3.63,-3.63 Z" fill="#f0f0f0"/>
<path d="M348.05,446.45 l3.63,3.63 l-3.63,3.63 l-3.63,-3.63 Z" fill="#f0f0f0"/>
<path d="M352.14,442.37 l3.63,3.63 l-3.63,3.63 l-3.63,-3.63 Z" fill="#f3f3f3"/>
<path d="M356.22,438.29 l3.63,3.63 l-3.63,3.63 l-3.63,-3.63 Z" fill="#f2f2f2"/>
<path d="M360.30,434.20 l3.63,3.63 l-3.63,3.63 l-3.63,-3.63 Z" fill="#ececec"/>
<path d="M364.39,430.12 l3.63,3.63 l-3.63,3.63 l-3.63,-3.63 Z" fill="#b2b2b2"/>
<path d="M368.47,426.03 l3.63,3.63 l-3.63,3.63 l-3.63,-3.63 Z" fill="#f2f2f2"/>
<path d="M282.71,519.97 l3.63,3.63 l-3.63,3.63 l-3.63,-3.63 Z" fill="#666666"/>
<path d="M286.79,515.88 l3.63,3.63 l-3.63,3.63 l-3.63,-3.63 Z" fill="#e5e5e5"/>
<path d="M290.88,511.80 l3.63,3.63 l-3.63,3.63 l-3.63,-3.63 Z" fill="#f1f1f1"/>
<path d="M294.96,507.71 l3.63,3.63 l-3.63,3.63 l-3.63,-3.63 Z" fill="#f3f3f3"/>
<path d="M299.04,503.63 l3.63,3.63 l-3.63,3.63 l-3.63,-3.63 Z" fill="#b6b6b6"/>
<path d="M303.13,499.55 l3.63,3.63 l-3.63,3.63 l-3.63,-3.63 Z" fill="#eeeeee"/>
<path d="M307.21,495.46 l3.63,3.63 l-3.63,3.63 l-3.63,-3.63 Z" fill="#e4e4e4"/>
<path d="M311.30,491.38 l3.63,3.63 l-3.63,3.63 l-3.63,-3.63 Z" fill="#eaeaea"/>
<path d="M315.38,487.29 l3.63,3.63 l-3.63,3.63 l-3.63,-3.63 Z" fill="#eaeaea"/>
<path d="M319.46,483.21 l3.63,3.63 l-3.63,3.63 l-3.63,-3.63 Z" fill="#e5e5e5"/>
<path d="M323.55,479.13 l3.63,3.63 l-3.63,3.63 l-3.63,-3.63 Z" fill="#e5e5e5"/>
<path d="M327.63,475.04 l3.63,3.63 l-3.63,3.63 l-3.63,-3.63 Z" fill="#f0f0f0"/>
<path d="M331.72,470.96 l3.63,3.63 l-3.63,3.63 l-3.63,-3.63 Z" fill="#e5e5e5"/>
<path d="M335.80,466.87 l3.63,3.63 l-3.63,3.63 l-3.63,-3.63 Z" fill="#b6b6b6"/>
<path d="M339.88,462.79 l3.63,3.63 l-3.63,3.63 l-3.63,-3.63 Z" fill="#ececec"/>
<path d="M343.97,458.71 l3.63,3.63 l-3.63,3.63 l-3.63,-3.63 Z" fill="#b6b6b6"/>
<path d="M348.05,454.62 l3.63,3.63 l-3.63,3.63 l-3.63,-3.63 Z" fill="#ececec"/>
<path d="M352.14,450.54 l3.63,3.63 l-3.63,3.63 l-3.63,-3.63 Z" fill="#e5e5e5"/>
<path d="M356.22,446.45 l3.63,3.63 l-3.63,3.63 l-3.63,-3.63 Z" fill="#050505"/>
<path d="M360.30,442.37 l3.63,3.63 l-3.63,3.63 l-3.63,-3.63 Z" fill="#050505"/>
<path d="M364.39,438.29 l3.63,3.63 l-3.63,3.63 l-3.63,-3.63 Z" fill="#e5e5e5"/>
<path d="M368.47,434.20 l3.63,3.63 l-3.63,3.63 l-3.63,-3.63 Z" fill="#e5e5e5"/>
<path d="M372.56,430.12 l3.63,3.63 l-3.63,3.63 l-3.63,-3.63 Z" fill="#ececec"/>
<path d="M290.88,519.97 l3.63,3.63 l-3.63,3.63 l-3.63,-3.63 Z" fill="#dcdcdc"/>
<path d="M294.96,515.88 l3.63,3.63 l-3.63,3.63 l-3.63,-3.63 Z" fill="#f1f1f1"/>
<path d="M299.04,511.80 l3.63,3.63 l-3.63,3.63 l-3.63,-3.63 Z" fill="#f1f1f1"/>
<path d="M303.13,507.71 l3.63,3.63 l-3.63,3.63 l-3.63,-3.63 Z" fill="#666666"/>
<path d="M307.21,503.63 l3.63,3.63 l-3.63,3.63 l-3.63,-3.63 Z" fill="#f0f0f0"/>
<path d="M311.30,499.55 l3.63,3.63 l-3.63,3.63 l-3.63,-3.63 Z" fill="#f0f0f0"/>
<path d="M315.38,495.46 l3.63,3.63 l-3.63,3.63 l-3.63,-3.63 Z" fill="#f6f6f6"/>
<path d="M319.46,491.38 l3.63,3.63 l-3.63,3.63 l-3.63,-3.63 Z" fill="#f1f1f1"/>
<path d="M323.55,487.29 l3.63,3.63 l-3.63,3.63 l-3.63,-3.63 Z" fill="#dddddd"/>
<path d="M327.63,483.21 l3.63,3.63 l-3.63,3.63 l-3.63,-3.63 Z" fill="#dddddd"/>
<path d="M331.72,479.13 l3.63,3.63 l-3.63,3.63 l-3.63,-3.63 Z" fill="#f0f0f0"/>
<path d="M335.80,475.04 l3.63,3.63 l-3.63,3.63 l-3.63,-3.63 Z" fill="#dddddd"/>
<path d="M339.88,470.96 l3.63,3.63 l-3.63,3.63 l-3.63,-3.63 Z" fill="#666666"/>
<path d="M343.97,466.87 l3.63,3.63 l-3.63,3.63 l-3.63,-3.63 Z" fill="#eeeeee"/>
<path d="M348.05,462.79 l3.63,3.63 l-3.63,3.63 l-3.63,-3.63 Z" fill="#666666"/>
<path d="M352.14,458.71 l3.63,3.63 l-3.63,3.63 l-3.63,-3.63 Z" fill="#dddddd"/>
<path d="M356.22,454.62 l3.63,3.63 l-3.63,3.63 l-3.63,-3.63 Z" fill="#cccccc"/>
<path d="M360.30,450.54 l3.63,3.63 l-3.63,3.63 l-3.63,-3.63 Z" fill="#666666"/>
<path d="M364.39,446.45 l3.63,3.63 l-3.63,3.63 l-3.63,-3.63 Z" fill="#666666"/>
<path d="M368.47,442.37 l3.63,3.63 l-3.63,3.63 l-3.63,-3.63 Z" fill="#dddddd"/>
<path d="M372.56,438.29 l3.63,3.63 l-3.63,3.63 l-3.63,-3.63 Z" fill="#dddddd"/>
<path d="M376.64,434.20 l3.63,3.63 l-3.63,3.63 l-3.63,-3.63 Z" fill="#f6f6f6"/>
<path d="M299.04,519.97 l3.63,3.63 l-3.63,3.63 l-3.63,-3.63 Z" fill="#f1f1f1"/>
<path d="M303.13,515.88 l3.63,3.63 l-3.63,3.63 l-3.63,-3.63 Z" fill="#f6f6f6"/>
<path d="M307.21,511.80 l3.63,3.63 l-3.63,3.63 l-3.63,-3.63 Z" fill="#dedede"/>
<path d="M311.30,507.71 l3.63,3.63 l-3.63,3.63 l-3.63,-3.63 Z" fill="#f3f3f3"/>
<path d="M315.38,503.63 l3.63,3.63 l-3.63,3.63 l-3.63,-3.63 Z" fill="#ececec"/>
<path d="M319.46,499.55 l3.63,3.63 l-3.63,3.63 l-3.63,-3.63 Z" fill="#eeeeee"/>
<path d="M323.55,495.46 l3.63,3.63 l-3.63,3.63 l-3.63,-3.63 Z" fill="#f1f1f1"/>
<path d="M327.63,491.38 l3.63,3.63 l-3.63,3.63 l-3.63,-3.63 Z" fill="#ececec"/>
<path d="M331.72,487.29 l3.63,3.63 l-3.63,3.63 l-3.63,-3.63 Z" fill="#f2f2f2"/>
<path d="M335.80,483.21 l3.63,3.63 l-3.63,3.63 l-3.63,-3.63 Z" fill="#bbbbbb"/>
<path d="M339.88,479.13 l3.63,3.63 l-3.63,3.63 l-3.63,-3.63 Z" fill="#f0f0f0"/>
<path d="M343.97,475.04 l3.63,3.63 l-3.63,3.63 l-3.63,-3.63 Z" fill="#dedede"/>
<path d="M348.05,470.96 l3.63,3.63 l-3.63,3.63 l-3.63,-3.63 Z" fill="#f1f1f1"/>
<path d="M352.14,466.87 l3.63,3.63 l-3.63,3.63 l-3.63,-3.63 Z" fill="#dedede"/>
<path d="M356.22,462.79 l3.63,3.63 l-3.63,3.63 l-3.63,-3.63 Z" fill="#eeeeee"/>
<path d="M360.30,458.71 l3.63,3.63 l-3.63,3.63 l-3.63,-3.63 Z" fill="#050505"/>
<path d="M364.39,454.62 l3.63,3.63 l-3.63,3.63 l-3.63,-3.63 Z" fill="#e5e5e5"/>
<path d="M368.47,450.54 l3.63,3.63 l-3.63,3.63 l-3.63,-3.63 Z" fill="#e5e5e5"/>
<path d="M372.56,446.45 l3.63,3.63 l-3.63,3.63 l-3.63,-3.63 Z" fill="#f4f4f4"/>
<path d="M376.64,442.37 l3.63,3.63 l-3.63,3.63 l-3.63,-3.63 Z" fill="#f6f6f6"/>
<path d="M380.72,438.29 l3.63,3.63 l-3.63,3.63 l-3.63,-3.63 Z" fill="#f2f2f2"/>
<path d="M307.21,519.97 l3.63,3.63 l-3.63,3.63 l-3.63,-3.63 Z" fill="#f4f4f4"/>
<path d="M311.30,515.88 l3.63,3.63 l-3.63,3.63 l-3.63,-3.63 Z" fill="#f3f3f3"/>
<path d="M315.38,511.80 l3.63,3.63 l-3.63,3.63 l-3.63,-3.63 Z" fill="#f3f3f3"/>
<path d="M319.46,507.71 l3.63,3.63 l-3.63,3.63 l-3.63,-3.63 Z" fill="#f1f1f1"/>
<path d="M323.55,503.63 l3.63,3.63 l-3.63,3.63 l-3.63,-3.63 Z" fill="#f0f0f0"/>
<path d="M327.63,499.55 l3.63,3.63 l-3.63,3.63 l-3.63,-3.63 Z" fill="#f2f2f2"/>
<path d="M331.72,495.46 l3.63,3.63 l-3.63,3.63 l-3.63,-3.63 Z" fill="#f1f1f1"/>
<path d="M335.80,491.38 l3.63,3.63 l-3.63,3.63 l-3.63,-3.63 Z" fill="#f3f3f3"/>
<path d="M339.88,487.29 l3.63,3.63 l-3.63,3.63 l-3.63,-3.63 Z" fill="#f6f6f6"/>
<path d="M343.97,483.21 l3.63,3.63 l-3.63,3.63 l-3.63,-3.63 Z" fill="#f2f2f2"/>
<path d="M348.05,479.13 l3.63,3.63 l-3.63,3.63 l-3.63,-3.63 Z" fill="#f3f3f3"/>
<path d="M352.14,475.04 l3.63,3.63 l-3.63,3.63 l-3.63,-3.63 Z" fill="#f6f6f6"/>
<path d="M356.22,470.96 l3.63,3.63 l-3.63,3.63 l-3.63,-3.63 Z" fill="#f3f3f3"/>
<path d="M360.30,466.87 l3.63,3.63 l-3.63,3.63 l-3.63,-3.63 Z" fill="#ececec"/>
<path d="M364.39,462.79 l3.63,3.63 l-3.63,3.63 l-3.63,-3.63 Z" fill="#f3f3f3"/>
<path d="M368.47,458.71 l3.63,3.63 l-3.63,3.63 l-3.63,-3.63 Z" fill="#f4f4f4"/>
<path d="M372.56,454.62 l3.63,3.63 l-3.63,3.63 l-3.63,-3.63 Z" fill="#f2f2f2"/>
<path d="M376.64,450.54 l3.63,3.63 l-3.63,3.63 l-3.63,-3.63 Z" fill="#f0f0f0"/>
<path d="M380.72,446.45 l3.63,3.63 l-3.63,3.63 l-3.63,-3.63 Z" fill="#f2f2f2"/>
<path d="M384.81,442.37 l3.63,3.63 l-3.63,3.63 l-3.63,-3.63 Z" fill="#f2f2f2"/>
<path d="M315.38,519.97 l3.63,3.63 l-3.63,3.63 l-3.63,-3.63 Z" fill="#f4f4f4"/>
<path d="M319.46,515.88 l3.63,3.63 l-3.63,3.63 l-3.63,-3.63 Z" fill="#f4f4f4"/>
<path d="M323.55,511.80 l3.63,3.63 l-3.63,3.63 l-3.63,-3.63 Z" fill="#eeeeee"/>
<path d="M327.63,507.71 l3.63,3.63 l-3.63,3.63 l-3.63,-3.63 Z" fill="#f1f1f1"/>
<path d="M331.72,503.63 l3.63,3.63 l-3.63,3.63 l-3.63,-3.63 Z" fill="#f2f2f2"/>
<path d="M335.80,499.55 l3.63,3.63 l-3.63,3.63 l-3.63,-3.63 Z" fill="#f6f6f6"/>
<path d="M339.88,495.46 l3.63,3.63 l-3.63,3.63 l-3.63,-3.63 Z" fill="#f6f6f6"/>
<path d="M343.97,491.38 l3.63,3.63 l-3.63,3.63 l-3.63,-3.63 Z" fill="#eeeeee"/>
<path d="M348.05,487.29 l3.63,3.63 l-3.63,3.63 l-3.63,-3.63 Z" fill="#f2f2f2"/>
<path d="M352.14,483.21 l3.63,3.63 l-3.63,3.63 l-3.63,-3.63 Z" fill="#f3f3f3"/>
<path d="M356.22,479.13 l3.63,3.63 l-3.63,3.63 l-3.63,-3.63 Z" fill="#ececec"/>
<path d="M360.30,475.04 l3.63,3.63 l-3.63,3.63 l-3.63,-3.63 Z" fill="#ececec"/>
<path d="M364.39,470.96 l3.63,3.63 l-3.63,3.63 l-3.63,-3.63 Z" fill="#f2f2f2"/>
<path d="M368.47,466.87 l3.63,3.63 l-3.63,3.63 l-3.63,-3.63 Z" fill="#eeeeee"/>
<path d="M372.56,462.79 l3.63,3.63 l-3.63,3.63 l-3.63,-3.63 Z" fill="#f1f1f1"/>
<path d="M376.64,458.71 l3.63,3.63 l-3.63,3.63 l-3.63,-3.63 Z" fill="#f3f3f3"/>
<path d="M380.72,454.62 l3.63,3.63 l-3.63,3.63 l-3.63,-3.63 Z" fill="#f3f3f3"/>
<path d="M384.81,450.54 l3.63,3.63 l-3.63,3.63 l-3.63,-3.63 Z" fill="#f3f3f3"/>
<path d="M388.89,446.45 l3.63,3.63 l-3.63,3.63 l-3.63,-3.63 Z" fill="#f3f3f3"/>
<path d="M323.55,519.97 l3.63,3.63 l-3.63,3.63 l-3.63,-3.63 Z" fill="#f0f0f0"/>
<path d="M327.63,515.88 l3.63,3.63 l-3.63,3.63 l-3.63,-3.63 Z" fill="#f1f1f1"/>
<path d="M331.72,511.80 l3.63,3.63 l-3.63,3.63 l-3.63,-3.63 Z" fill="#e4e4e4"/>
<path d="M335.80,507.71 l3.63,3.63 l-3.63,3.63 l-3.63,-3.63 Z" fill="#e4e4e4"/>
<path d="M339.88,503.63 l3.63,3.63 l-3.63,3.63 l-3.63,-3.63 Z" fill="#e4e4e4"/>
<path d="M343.97,499.55 l3.63,3.63 l-3.63,3.63 l-3.63,-3.63 Z" fill="#e6e6e6"/>
<path d="M348.05,495.46 l3.63,3.63 l-3.63,3.63 l-3.63,-3.63 Z" fill="#f3f3f3"/>
<path d="M352.14,491.38 l3.63,3.63 l-3.63,3.63 l-3.63,-3.63 Z" fill="#e6e6e6"/>
<path d="M356.22,487.29 l3.63,3.63 l-3.63,3.63 l-3.63,-3.63 Z" fill="#050505"/>
<path d="M360.30,483.21 l3.63,3.63 l-3.63,3.63 l-3.63,-3.63 Z" fill="#eeeeee"/>
<path d="M364.39,479.13 l3.63,3.63 l-3.63,3.63 l-3.63,-3.63 Z" fill="#050505"/>
<path d="M368.47,475.04 l3.63,3.63 l-3.63,3.63 l-3.63,-3.63 Z" fill="#f4f4f4"/>
<path d="M372.56,470.96 l3.63,3.63 l-3.63,3.63 l-3.63,-3.63 Z" fill="#dedede"/>
<path d="M376.64,466.87 l3.63,3.63 l-3.63,3.63 l-3.63,-3.63 Z" fill="#b6b6b6"/>
<path d="M380.72,462.79 l3.63,3.63 l-3.63,3.63 l-3.63,-3.63 Z" fill="#b6b6b6"/>
<path d="M384.81,458.71 l3.63,3.63 l-3.63,3.63 l-3.63,-3.63 Z" fill="#e4e4e4"/>
<path d="M388.89,454.62 l3.63,3.63 l-3.63,3.63 l-3.63,-3.63 Z" fill="#e6e6e6"/>
<path d="M392.98,450.54 l3.63,3.63 l-3.63,3.63 l-3.63,-3.63 Z" fill="#dddddd"/>
<path d="M331.72,519.97 l3.63,3.63 l-3.63,3.63 l-3.63,-3.63 Z" fill="#f0f0f0"/>
<path d="M335.80,515.88 l3.63,3.63 l-3.63,3.63 l-3.63,-3.63 Z" fill="#f4f4f4"/>
<path d="M339.88,511.80 l3.63,3.63 l-3.63,3.63 l-3.63,-3.63 Z" fill="#f1f1f1"/>
<path d="M343.97,507.71 l3.63,3.63 l-3.63,3.63 l-3.63,-3.63 Z" fill="#f2f2f2"/>
<path d="M348.05,503.63 l3.63,3.63 l-3.63,3.63 l-3.63,-3.63 Z" fill="#f0f0f0"/>
<path d="M352.14,499.55 l3.63,3.63 l-3.63,3.63 l-3.63,-3.63 Z" fill="#ececec"/>
<path d="M356.22,495.46 l3.63,3.63 l-3.63,3.63 l-3.63,-3.63 Z" fill="#eeeeee"/>
<path d="M360.30,491.38 l3.63,3.63 l-3.63,3.63 l-3.63,-3.63 Z" fill="#f0f0f0"/>
<path d="M364.39,487.29 l3.63,3.63 l-3.63,3.63 l-3.63,-3.63 Z" fill="#eeeeee"/>
<path d="M368.47,483.21 l3.63,3.63 l-3.63,3.63 l-3.63,-3.63 Z" fill="#f2f2f2"/>
<path d="M372.56,479.13 l3.63,3.63 l-3.63,3.63 l-3.63,-3.63 Z" fill="#f0f0f0"/>
<path d="M376.64,475.04 l3.63,3.63 l-3.63,3.63 l-3.63,-3.63 Z" fill="#ececec"/>
<path d="M380.72,470.96 l3.63,3.63 l-3.63,3.63 l-3.63,-3.63 Z" fill="#eeeeee"/>
<path d="M384.81,466.87 l3.63,3.63 l-3.63,3.63 l-3.63,-3.63 Z" fill="#f0f0f0"/>
<path d="M388.89,462.79 l3.63,3.63 l-3.63,3.63 l-3.63,-3.63 Z" fill="#f4f4f4"/>
<path d="M392.98,458.71 l3.63,3.63 l-3.63,3.63 l-3.63,-3.63 Z" fill="#f3f3f3"/>
<path d="M397.06,454.62 l3.63,3.63 l-3.63,3.63 l-3.63,-3.63 Z" fill="#f2f2f2"/>
<path d="M339.88,519.97 l3.63,3.63 l-3.63,3.63 l-3.63,-3.63 Z" fill="#f6f6f6"/>
<path d="M343.97,515.88 l3.63,3.63 l-3.63,3.63 l-3.63,-3.63 Z" fill="#ececec"/>
<path d="M348.05,511.80 l3.63,3.63 l-3.63,3.63 l-3.63,-3.63 Z" fill="#ececec"/>
<path d="M352.14,507.71 l3.63,3.63 l-3.63,3.63 l-3.63,-3.63 Z" fill="#f1f1f1"/>
<path d="M356.22,503.63 l3.63,3.63 l-3.63,3.63 l-3.63,-3.63 Z" fill="#f0f0f0"/>
<path d="M360.30,499.55 l3.63,3.63 l-3.63,3.63 l-3.63,-3.63 Z" fill="#f0f0f0"/>
<path d="M364.39,495.46 l3.63,3.63 l-3.63,3.63 l-3.63,-3.63 Z" fill="#f1f1f1"/>
<path d="M368.47,491.38 l3.63,3.63 l-3.63,3.63 l-3.63,-3.63 Z" fill="#f1f1f1"/>
<path d="M372.56,487.29 l3.63,3.63 l-3.63,3.63 l-3.63,-3.63 Z" fill="#f1f1f1"/>
<path d="M376.64,483.21 l3.63,3.63 l-3.63,3.63 l-3.63,-3.63 Z" fill="#f1f1f1"/>
<path d="M380.72,479.13 l3.63,3.63 l-3.63,3.63 l-3.63,-3.63 Z" fill="#f6f6f6"/>
<path d="M384.81,475.04 l3.63,3.63 l-3.63,3.63 l-3.63,-3.63 Z" fill="#e4e4e4"/>
<path d="M388.89,470.96 l3.63,3.63 l-3.63,3.63 l-3.63,-3.63 Z" fill="#e4e4e4"/>
<path d="M392.98,466.87 l3.63,3.63 l-3.63,3.63 l-3.63,-3.63 Z" fill="#f0f0f0"/>
<path d="M397.06,462.79 l3.63,3.63 l-3.63,3.63 l-3.63,-3.63 Z" fill="#f2f2f2"/>
<path d="M401.14,458.71 l3.63,3.63 l-3.63,3.63 l-3.63,-3.63 Z" fill="#f0f0f0"/>
<path d="M348.05,519.97 l3.63,3.63 l-3.63,3.63 l-3.63,-3.63 Z" fill="#050505"/>
<path d="M352.14,515.88 l3.63,3.63 l-3.63,3.63 l-3.63,-3.63 Z" fill="#ececec"/>
<path d="M356.22,511.80 l3.63,3.63 l-3.63,3.63 l-3.63,-3.63 Z" fill="#f6f6f6"/>
<path d="M360.30,507.71 l3.63,3.63 l-3.63,3.63 l-3.63,-3.63 Z" fill="#f1f1f1"/>
<path d="M364.39,503.63 l3.63,3.63 l-3.63,3.63 l-3.63,-3.63 Z" fill="#f2f2f2"/>
<path d="M368.47,499.55 l3.63,3.63 l-3.63,3.63 l-3.63,-3.63 Z" fill="#e4e4e4"/>
<path d="M372.56,495.46 l3.63,3.63 l-3.63,3.63 l-3.63,-3.63 Z" fill="#eeeeee"/>
<path d="M376.64,491.38 l3.63,3.63 l-3.63,3.63 l-3.63,-3.63 Z" fill="#e4e4e4"/>
<path d="M380.72,487.29 l3.63,3.63 l-3.63,3.63 l-3.63,-3.63 Z" fill="#f4f4f4"/>
<path d="M384.81,483.21 l3.63,3.63 l-3.63,3.63 l-3.63,-3.63 Z" fill="#ececec"/>
<path d="M388.89,479.13 l3.63,3.63 l-3.63,3.63 l-3.63,-3.63 Z" fill="#eaeaea"/>
<path d="M392.98,475.04 l3.63,3.63 l-3.63,3.63 l-3.63,-3.63 Z" fill="#eaeaea"/>
<path d="M397.06,470.96 l3.63,3.63 l-3.63,3.63 l-3.63,-3.63 Z" fill="#f2f2f2"/>
<path d="M401.14,466.87 l3.63,3.63 l-3.63,3.63 l-3.63,-3.63 Z" fill="#eeeeee"/>
<path d="M405.23,462.79 l3.63,3.63 l-3.63,3.63 l-3.63,-3.63 Z" fill="#f6f6f6"/>
<path d="M356.22,519.97 l3.63,3.63 l-3.63,3.63 l-3.63,-3.63 Z" fill="#f0f0f0"/>
<path d="M360.30,515.88 l3.63,3.63 l-3.63,3.63 l-3.63,-3.63 Z" fill="#f6f6f6"/>
<path d="M364.39,511.80 l3.63,3.63 l-3.63,3.63 l-3.63,-3.63 Z" fill="#ececec"/>
<path d="M368.47,507.71 l3.63,3.63 l-3.63,3.63 l-3.63,-3.63 Z" fill="#f2f2f2"/>
<path d="M372.56,503.63 l3.63,3.63 l-3.63,3.63 l-3.63,-3.63 Z" fill="#e4e4e4"/>
<path d="M376.64,499.55 l3.63,3.63 l-3.63,3.63 l-3.63,-3.63 Z" fill="#ececec"/>
<path d="M380.72,495.46 l3.63,3.63 l-3.63,3.63 l-3.63,-3.63 Z" fill="#e4e4e4"/>
<path d="M384.81,491.38 l3.63,3.63 l-3.63,3.63 l-3.63,-3.63 Z" fill="#f4f4f4"/>
<path d="M388.89,487.29 l3.63,3.63 l-3.63,3.63 l-3.63,-3.63 Z" fill="#ececec"/>
<path d="M392.98,483.21 l3.63,3.63 l-3.63,3.63 l-3.63,-3.63 Z" fill="#eaeaea"/>
<path d="M397.06,479.13 l3.63,3.63 l-3.63,3.63 l-3.63,-3.63 Z" fill="#eaeaea"/>
<path d="M401.14,475.04 l3.63,3.63 l-3.63,3.63 l-3.63,-3.63 Z" fill="#f4f4f4"/>
<path d="M405.23,470.96 l3.63,3.63 l-3.63,3.63 l-3.63,-3.63 Z" fill="#f4f4f4"/>
<path d="M409.31,466.87 l3.63,3.63 l-3.63,3.63 l-3.63,-3.63 Z" fill="#f4f4f4"/>
<path d="M364.39,519.97 l3.63,3.63 l-3.63,3.63 l-3.63,-3.63 Z" fill="#f3f3f3"/>
<path d="M368.47,515.88 l3.63,3.63 l-3.63,3.63 l-3.63,-3.63 Z" fill="#f4f4f4"/>
<path d="M372.56,511.80 l3.63,3.63 l-3.63,3.63 l-3.63,-3.63 Z" fill="#f4f4f4"/>
<path d="M376.64,507.71 l3.63,3.63 l-3.63,3.63 l-3.63,-3.63 Z" fill="#e4e4e4"/>
<path d="M380.72,503.63 l3.63,3.63 l-3.63,3.63 l-3.63,-3.63 Z" fill="#f1f1f1"/>
<path d="M384.81,499.55 l3.63,3.63 l-3.63,3.63 l-3.63,-3.63 Z" fill="#e4e4e4"/>
<path d="M388.89,495.46 l3.63,3.63 l-3.63,3.63 l-3.63,-3.63 Z" fill="#ececec"/>
<path d="M392.98,491.38 l3.63,3.63 l-3.63,3.63 l-3.63,-3.63 Z" fill="#eeeeee"/>
<path d="M397.06,487.29 l3.63,3.63 l-3.63,3.63 l-3.63,-3.63 Z" fill="#e5e5e5"/>
<path d="M401.14,483.21 l3.63,3.63 l-3.63,3.63 l-3.63,-3.63 Z" fill="#e5e5e5"/>
<path d="M405.23,479.13 l3.63,3.63 l-3.63,3.63 l-3.63,-3.63 Z" fill="#050505"/>
<path d="M409.31,475.04 l3.63,3.63 l-3.63,3.63 l-3.63,-3.63 Z" fill="#eeeeee"/>
<path d="M413.40,470.96 l3.63,3.63 l-3.63,3.63 l-3.63,-3.63 Z" fill="#f6f6f6"/>
<path d="M372.56,519.97 l3.63,3.63 l-3.63,3.63 l-3.63,-3.63 Z" fill="#f1f1f1"/>
<path d="M376.64,515.88 l3.63,3.63 l-3.63,3.63 l-3.63,-3.63 Z" fill="#050505"/>
<path d="M380.72,511.80 l3.63,3.63 l-3.63,3.63 l-3.63,-3.63 Z" fill="#e6e6e6"/>
<path d="M384.81,507.71 l3.63,3.63 l-3.63,3.63 l-3.63,-3.63 Z" fill="#f6f6f6"/>
<path d="M388.89,503.63 l3.63,3.63 l-3.63,3.63 l-3.63,-3.63 Z" fill="#e6e6e6"/>
<path d="M392.98,499.55 l3.63,3.63 l-3.63,3.63 l-3.63,-3.63 Z" fill="#f4f4f4"/>
<path d="M397.06,495.46 l3.63,3.63 l-3.63,3.63 l-3.63,-3.63 Z" fill="#ececec"/>
<path d="M401.14,491.38 l3.63,3.63 l-3.63,3.63 l-3.63,-3.63 Z" fill="#e5e5e5"/>
<path d="M405.23,487.29 l3.63,3.63 l-3.63,3.63 l-3.63,-3.63 Z" fill="#e5e5e5"/>
<path d="M409.31,483.21 l3.63,3.63 l-3.63,3.63 l-3.63,-3.63 Z" fill="#f1f1f1"/>
<path d="M413.40,479.13 l3.63,3.63 l-3.63,3.63 l-3.63,-3.63 Z" fill="#050505"/>
<path d="M417.48,475.04 l3.63,3.63 l-3.63,3.63 l-3.63,-3.63 Z" fill="#ececec"/>
<path d="M380.72,519.97 l3.63,3.63 l-3.63,3.63 l-3.63,-3.63 Z" fill="#ececec"/>
<path d="M384.81,515.88 l3.63,3.63 l-3.63,3.63 l-3.63,-3.63 Z" fill="#f0f0f0"/>
<path d="M388.89,511.80 l3.63,3.63 l-3.63,3.63 l-3.63,-3.63 Z" fill="#f4f4f4"/>
<path d="M392.98,507.71 l3.63,3.63 l-3.63,3.63 l-3.63,-3.63 Z" fill="#f0f0f0"/>
<path d="M397.06,503.63 l3.63,3.63 l-3.63,3.63 l-3.63,-3.63 Z" fill="#f4f4f4"/>
<path d="M401.14,499.55 l3.63,3.63 l-3.63,3.63 l-3.63,-3.63 Z" fill="#bbbbbb"/>
<path d="M405.23,495.46 l3.63,3.63 l-3.63,3.63 l-3.63,-3.63 Z" fill="#f1f1f1"/>
<path d="M409.31,491.38 l3.63,3.63 l-3.63,3.63 l-3.63,-3.63 Z" fill="#f4f4f4"/>
<path d="M413.40,487.29 l3.63,3.63 l-3.63,3.63 l-3.63,-3.63 Z" fill="#ececec"/>
<path d="M417.48,483.21 l3.63,3.63 l-3.63,3.63 l-3.63,-3.63 Z" fill="#f4f4f4"/>
<path d="M421.56,479.13 l3.63,3.63 l-3.63,3.63 l-3.63,-3.63 Z" fill="#f1f1f1"/>
<path d="M388.89,519.97 l3.63,3.63 l-3.63,3.63 l-3.63,-3.63 Z" fill="#e4e4e4"/>
<path d="M392.98,515.88 l3.63,3.63 l-3.63,3.63 l-3.63,-3.63 Z" fill="#eeeeee"/>
<path d="M397.06,511.80 l3.63,3.63 l-3.63,3.63 l-3.63,-3.63 Z" fill="#e6e6e6"/>
<path d="M401.14,507.71 l3.63,3.63 l-3.63,3.63 l-3.63,-3.63 Z" fill="#f1f1f1"/>
<path d="M405.23,503.63 l3.63,3.63 l-3.63,3.63 l-3.63,-3.63 Z" fill="#ececec"/>
<path d="M409.31,499.55 l3.63,3.63 l-3.63,3.63 l-3.63,-3.63 Z" fill="#e5e5e5"/>
<path d="M413.40,495.46 l3.63,3.63 l-3.63,3.63 l-3.63,-3.63 Z" fill="#e5e5e5"/>
<path d="M417.48,491.38 l3.63,3.63 l-3.63,3.63 l-3.63,-3.63 Z" fill="#f0f0f0"/>
<path d="M421.56,487.29 l3.63,3.63 l-3.63,3.63 l-3.63,-3.63 Z" fill="#050505"/>
<path d="M425.65,483.21 l3.63,3.63 l-3.63,3.63 l-3.63,-3.63 Z" fill="#f0f0f0"/>
<path d="M397.06,519.97 l3.63,3.63 l-3.63,3.63 l-3.63,-3.63 Z" fill="#e4e4e4"/>
<path d="M401.14,515.88 l3.63,3.63 l-3.63,3.63 l-3.63,-3.63 Z" fill="#050505"/>
<path d="M405.23,511.80 l3.63,3.63 l-3.63,3.63 l-3.63,-3.63 Z" fill="#f3f3f3"/>
<path d="M409.31,507.71 l3.63,3.63 l-3.63,3.63 l-3.63,-3.63 Z" fill="#dedede"/>
<path d="M413.40,503.63 l3.63,3.63 l-3.63,3.63 l-3.63,-3.63 Z" fill="#b6b6b6"/>
<path d="M417.48,499.55 l3.63,3.63 l-3.63,3.63 l-3.63,-3.63 Z" fill="#b6b6b6"/>
<path d="M421.56,495.46 l3.63,3.63 l-3.63,3.63 l-3.63,-3.63 Z" fill="#e4e4e4"/>
<path d="M425.65,491.38 l3.63,3.63 l-3.63,3.63 l-3.63,-3.63 Z" fill="#e6e6e6"/>
<path d="M429.73,487.29 l3.63,3.63 l-3.63,3.63 l-3.63,-3.63 Z" fill="#e0e0e0"/>
<path d="M405.23,519.97 l3.63,3.63 l-3.63,3.63 l-3.63,-3.63 Z" fill="#f4f4f4"/>
<path d="M409.31,515.88 l3.63,3.63 l-3.63,3.63 l-3.63,-3.63 Z" fill="#f1f1f1"/>
<path d="M413.40,511.80 l3.63,3.63 l-3.63,3.63 l-3.63,-3.63 Z" fill="#f2f2f2"/>
<path d="M417.48,507.71 l3.63,3.63 l-3.63,3.63 l-3.63,-3.63 Z" fill="#f3f3f3"/>
<path d="M421.56,503.63 l3.63,3.63 l-3.63,3.63 l-3.63,-3.63 Z" fill="#ececec"/>
<path d="M425.65,499.55 l3.63,3.63 l-3.63,3.63 l-3.63,-3.63 Z" fill="#f0f0f0"/>
<path d="M429.73,495.46 l3.63,3.63 l-3.63,3.63 l-3.63,-3.63 Z" fill="#f3f3f3"/>
<path d="M433.82,491.38 l3.63,3.63 l-3.63,3.63 l-3.63,-3.63 Z" fill="#f1f1f1"/>
<path d="M413.40,519.97 l3.63,3.63 l-3.63,3.63 l-3.63,-3.63 Z" fill="#e8e8e8"/>
<path d="M417.48,515.88 l3.63,3.63 l-3.63,3.63 l-3.63,-3.63 Z" fill="#dedede"/>
<path d="M421.56,511.80 l3.63,3.63 l-3.63,3.63 l-3.63,-3.63 Z" fill="#b6b6b6"/>
<path d="M425.65,507.71 l3.63,3.63 l-3.63,3.63 l-3.63,-3.63 Z" fill="#b6b6b6"/>
<path d="M429.73,503.63 l3.63,3.63 l-3.63,3.63 l-3.63,-3.63 Z" fill="#e4e4e4"/>
<path d="M433.82,499.55 l3.63,3.63 l-3.63,3.63 l-3.63,-3.63 Z" fill="#e6e6e6"/>
<path d="M437.90,495.46 l3.63,3.63 l-3.63,3.63 l-3.63,-3.63 Z" fill="#e0e0e0"/>
<path d="M421.56,519.97 l3.63,3.63 l-3.63,3.63 l-3.63,-3.63 Z" fill="#f3f3f3"/>
<path d="M425.65,515.88 l3.63,3.63 l-3.63,3.63 l-3.63,-3.63 Z" fill="#f0f0f0"/>
<path d="M429.73,511.80 l3.63,3.63 l-3.63,3.63 l-3.63,-3.63 Z" fill="#f2f2f2"/>
<path d="M433.82,507.71 l3.63,3.63 l-3.63,3.63 l-3.63,-3.63 Z" fill="#f2f2f2"/>
<path d="M437.90,503.63 l3.63,3.63 l-3.63,3.63 l-3.63,-3.63 Z" fill="#f2f2f2"/>
<path d="M441.98,499.55 l3.63,3.63 l-3.63,3.63 l-3.63,-3.63 Z" fill="#eeeeee"/>
<path d="M429.73,519.97 l3.63,3.63 l-3.63,3.63 l-3.63,-3.63 Z" fill="#e4e4e4"/>
<path d="M433.82,515.88 l3.63,3.63 l-3.63,3.63 l-3.63,-3.63 Z" fill="#e4e4e4"/>
<path d="M437.90,511.80 l3.63,3.63 l-3.63,3.63 l-3.63,-3.63 Z" fill="#f2f2f2"/>
<path d="M441.98,507.71 l3.63,3.63 l-3.63,3.63 l-3.63,-3.63 Z" fill="#f1f1f1"/>
<path d="M446.07,503.63 l3.63,3.63 l-3.63,3.63 l-3.63,-3.63 Z" fill="#f2f2f2"/>
<path d="M437.90,519.97 l3.63,3.63 l-3.63,3.63 l-3.63,-3.63 Z" fill="#050505"/>
<path d="M441.98,515.88 l3.63,3.63 l-3.63,3.63 l-3.63,-3.63 Z" fill="#e5e5e5"/>
<path d="M446.07,511.80 l3.63,3.63 l-3.63,3.63 l-3.63,-3.63 Z" fill="#e5e5e5"/>
<path d="M450.15,507.71 l3.63,3.63 l-3.63,3.63 l-3.63,-3.63 Z" fill="#f1f1f1"/>
<path d="M446.07,519.97 l3.63,3.63 l-3.63,3.63 l-3.63,-3.63 Z" fill="#e5e5e5"/>
<path d="M450.15,515.88 l3.63,3.63 l-3.63,3.63 l-3.63,-3.63 Z" fill="#e5e5e5"/>
<path d="M454.24,511.80 l3.63,3.63 l-3.63,3.63 l-3.63,-3.63 Z" fill="#ececec"/>
<path d="M454.24,519.97 l3.63,3.63 l-3.63,3.63 l-3.63,-3.63 Z" fill="#f2f2f2"/>
<path d="M458.32,515.88 l3.63,3.63 l-3.63,3.63 l-3.63,-3.63 Z" fill="#f2f2f2"/>
<path d="M462.40,519.97 l3.63,3.63 l-3.63,3.63 l-3.63,-3.63 Z" fill="#eeeeee"/>
<!-- arrows -->
<rect x="396" y="126.9" width="125" height="10.0" fill="#2b5efb"/>
<polygon points="519.2,113.9 554.7,132.0 519.2,150.0" fill="#2b5efb"/>
<path d="M215.3,383 C191.5,420 188,465 198.5,494" fill="none" stroke="#000" stroke-width="8.6"/>
<polygon points="181.3,498.7 213.3,485.5 210.9,524.5" fill="#000"/>
<rect x="133.1" y="418.1" width="108" height="59.6" fill="#fff" stroke="#161616" stroke-width="1.5"/>
<!-- text -->
<text x="35.2" y="76.5" font-family='"Liberation Sans", sans-serif' font-size="22.3px" font-weight="bold" font-style="normal" fill="#000" text-anchor="start" textLength="155.4" lengthAdjust="spacingAndGlyphs" stroke="#000" stroke-width="0.35">&gt;100 features:</text>
<text x="58.2" y="103.8" font-family='"Liberation Sans", sans-serif' font-size="22.0px" font-weight="normal" font-style="normal" fill="#000" text-anchor="start" textLength="79.3" lengthAdjust="spacingAndGlyphs" stroke="#000" stroke-width="0.2">Binding</text>
<text x="58.2" y="131.2" font-family='"Liberation Sans", sans-serif' font-size="22.0px" font-weight="normal" font-style="normal" fill="#000" text-anchor="start" textLength="136.4" lengthAdjust="spacingAndGlyphs" stroke="#000" stroke-width="0.2">Conservation</text>
<text x="58.2" y="158.7" font-family='"Liberation Sans", sans-serif' font-size="22.0px" font-weight="normal" font-style="normal" fill="#000" text-anchor="start" textLength="115.8" lengthAdjust="spacingAndGlyphs" stroke="#000" stroke-width="0.2">Predictions</text>
<circle cx="40.6" cy="95.6" r="3.4" fill="#000"/>
<circle cx="40.6" cy="123.0" r="3.4" fill="#000"/>
<circle cx="40.6" cy="150.5" r="3.4" fill="#000"/>
<g transform="translate(444.80,51.10) scale(1.0000) translate(-444.80,-51.10)" fill="#2b5efb">
<path d="M484.97,55.15 L484.93,55.02 L484.89,54.85 L484.84,54.62 L484.77,54.34 L484.70,54.03 L484.62,53.69 L484.53,53.35 L484.42,52.99 L484.29,52.64 L484.13,52.28 L483.94,51.94 L483.70,51.63 L483.46,51.37 L483.21,51.15 L482.94,50.95 L482.66,50.76 L482.36,50.60 L482.05,50.44 L481.72,50.31 L481.39,50.20 L481.04,50.10 L480.69,50.03 L480.32,49.99 L479.96,49.98 L479.62,49.99 L479.27,50.01 L478.90,50.05 L478.53,50.12 L478.14,50.20 L477.74,50.31 L477.34,50.45 L476.93,50.63 L476.52,50.83 L476.11,51.08 L475.71,51.37 L475.32,51.69 L474.95,52.05 L474.59,52.44 L474.24,52.86 L473.91,53.29 L473.57,53.75 L473.25,54.23 L472.94,54.73 L472.63,55.24 L472.34,55.76 L472.05,56.29 L471.78,56.82 L471.51,57.36 L471.25,57.93 L471.01,58.51 L470.78,59.10 L470.56,59.70 L470.34,60.31 L470.14,60.92 L469.95,61.54 L469.76,62.17 L469.57,62.80 L469.38,63.45 L469.20,64.10 L469.01,64.76 L468.82,65.46 L468.63,66.17 L468.45,66.90 L468.26,67.64 L468.08,68.39 L467.91,69.15 L467.73,69.92 L467.55,70.69 L467.38,71.48 L467.20,72.27 L467.02,73.06 L466.85,73.86 L466.67,74.68 L466.49,75.50 L466.31,76.34 L466.13,77.19 L465.95,78.04 L465.77,78.90 L465.60,79.76 L465.42,80.62 L465.24,81.48 L465.06,82.34 L464.88,83.19 L464.70,84.03 L464.51,84.89 L464.33,85.76 L464.14,86.63 L463.95,87.51 L463.76,88.38 L463.57,89.25 L463.38,90.11 L463.19,90.96 L463.01,91.79 L462.82,92.60 L462.64,93.38 L462.46,94.13 L462.28,94.87 L462.11,95.59 L461.93,96.29 L461.76,96.97 L461.59,97.63 L461.43,98.28 L461.26,98.91 L461.09,99.53 L460.92,100.14 L460.74,100.73 L460.56,101.32 L460.38,101.90 L460.18,102.48 L459.99,103.06 L459.79,103.63 L459.59,104.20 L459.39,104.75 L459.18,105.29 L458.97,105.81 L458.76,106.32 L458.55,106.81 L458.33,107.28 L458.11,107.72 L457.89,108.14 L457.67,108.54 L457.45,108.93 L457.21,109.30 L456.98,109.65 L456.74,109.99 L456.50,110.32 L456.25,110.62 L456.00,110.91 L455.75,111.18 L455.50,111.43 L455.25,111.66 L455.00,111.86 L454.76,112.04 L454.51,112.19 L454.26,112.33 L454.00,112.45 L453.74,112.55 L453.48,112.63 L453.23,112.70 L452.97,112.75 L452.72,112.79 L452.48,112.81 L452.24,112.82 L452.03,112.82 L451.84,112.80 L451.64,112.77 L451.43,112.71 L451.21,112.64 L450.98,112.54 L450.76,112.44 L450.54,112.32 L450.33,112.19 L450.13,112.06 L449.95,111.93 L449.78,111.80 L449.66,111.69 L449.58,111.61 L449.53,111.54 L449.49,111.44 L449.44,111.33 L449.41,111.20 L449.37,111.07 L449.34,110.93 L449.32,110.78 L449.29,110.63 L449.26,110.48 L449.21,110.31 L449.17,110.17 L447.08,111.05 L447.11,111.09 L447.14,111.15 L447.19,111.26 L447.25,111.41 L447.32,111.59 L447.41,111.79 L447.51,112.01 L447.64,112.24 L447.79,112.47 L447.96,112.71 L448.17,112.95 L448.40,113.15 L448.62,113.31 L448.84,113.47 L449.08,113.63 L449.33,113.80 L449.61,113.96 L449.90,114.12 L450.20,114.26 L450.52,114.40 L450.85,114.52 L451.19,114.62 L451.55,114.70 L451.91,114.74 L452.25,114.75 L452.58,114.75 L452.93,114.72 L453.28,114.68 L453.63,114.62 L453.99,114.54 L454.35,114.44 L454.71,114.33 L455.08,114.19 L455.44,114.03 L455.81,113.86 L456.17,113.66 L456.53,113.45 L456.89,113.22 L457.25,112.98 L457.62,112.72 L457.99,112.44 L458.36,112.14 L458.72,111.82 L459.09,111.48 L459.46,111.12 L459.82,110.74 L460.17,110.33 L460.52,109.91 L460.87,109.47 L461.21,109.00 L461.55,108.52 L461.89,108.01 L462.22,107.49 L462.55,106.95 L462.87,106.40 L463.18,105.84 L463.49,105.26 L463.80,104.68 L464.09,104.09 L464.37,103.48 L464.65,102.87 L464.92,102.25 L465.18,101.62 L465.43,100.98 L465.67,100.33 L465.91,99.67 L466.14,98.99 L466.37,98.31 L466.60,97.61 L466.82,96.90 L467.05,96.17 L467.27,95.42 L467.49,94.63 L467.72,93.82 L467.94,92.99 L468.15,92.14 L468.36,91.27 L468.58,90.40 L468.78,89.52 L468.99,88.63 L469.19,87.75 L469.39,86.88 L469.59,86.01 L469.78,85.15 L469.97,84.30 L470.16,83.43 L470.35,82.56 L470.54,81.69 L470.72,80.83 L470.90,79.96 L471.07,79.10 L471.25,78.25 L471.42,77.41 L471.59,76.58 L471.76,75.77 L471.93,74.96 L472.10,74.16 L472.27,73.37 L472.44,72.58 L472.60,71.79 L472.76,71.02 L472.92,70.26 L473.08,69.51 L473.24,68.77 L473.39,68.04 L473.54,67.34 L473.69,66.64 L473.84,65.96 L473.99,65.28 L474.13,64.61 L474.26,63.96 L474.39,63.33 L474.51,62.71 L474.63,62.11 L474.75,61.53 L474.88,60.97 L475.00,60.42 L475.13,59.90 L475.27,59.38 L475.41,58.88 L475.57,58.37 L475.73,57.85 L475.90,57.34 L476.07,56.84 L476.24,56.36 L476.41,55.89 L476.59,55.44 L476.77,55.02 L476.95,54.63 L477.13,54.28 L477.31,53.96 L477.48,53.69 L477.65,53.45 L477.84,53.24 L478.03,53.04 L478.24,52.86 L478.46,52.69 L478.68,52.54 L478.92,52.41 L479.16,52.29 L479.40,52.20 L479.63,52.12 L479.87,52.06 L480.08,52.01 L480.27,51.99 L480.46,51.99 L480.66,52.01 L480.87,52.05 L481.08,52.11 L481.28,52.18 L481.48,52.28 L481.66,52.38 L481.84,52.50 L481.99,52.62 L482.13,52.75 L482.22,52.85 L482.29,52.95 L482.35,53.10 L482.42,53.31 L482.48,53.55 L482.53,53.82 L482.58,54.11 L482.61,54.40 L482.64,54.69 L482.67,54.97 L482.70,55.23 L482.73,55.47 L482.77,55.66 Z"/>
<circle cx="483.64" cy="55.75" r="3.05"/>
<circle cx="448.46" cy="110.27" r="3.05"/>
<rect x="458.19" y="68.64" width="20.70" height="2.04"/>
</g>
<g transform="translate(474.40,82.30) scale(1.0000) translate(-474.6,-82.3)" fill="#2b5efb">
<path d="M498.30,100.40 L497.65,102.76 L496.81,105.08 L495.79,107.33 L494.61,109.45 L493.30,111.42 L491.88,113.20 L490.36,114.76 L488.78,116.08 L487.16,117.12 L485.54,117.88 L483.93,118.35 L482.36,118.50 L480.87,118.35 L479.48,117.88 L478.21,117.12 L477.08,116.08 L476.12,114.76 L475.33,113.20 L474.74,111.42 L474.35,109.45 L474.17,107.33 L474.20,105.08 L474.45,102.76 L474.90,100.40 L475.55,98.04 L476.39,95.72 L477.41,93.47 L478.59,91.35 L479.90,89.38 L481.32,87.60 L482.84,86.04 L484.42,84.72 L486.04,83.68 L487.66,82.92 L489.27,82.45 L490.84,82.30 L492.33,82.45 L493.72,82.92 L494.99,83.68 L496.12,84.72 L497.08,86.04 L497.87,87.60 L498.46,89.38 L498.85,91.35 L499.03,93.47 L499.00,95.72 L498.75,98.04 Z M493.10,100.40 L493.55,98.25 L493.88,96.13 L494.08,94.09 L494.16,92.15 L494.11,90.36 L493.93,88.73 L493.62,87.31 L493.19,86.11 L492.65,85.16 L492.01,84.46 L491.28,84.04 L490.46,83.90 L489.58,84.04 L488.65,84.46 L487.68,85.16 L486.69,86.11 L485.71,87.31 L484.73,88.73 L483.79,90.36 L482.90,92.15 L482.07,94.09 L481.32,96.13 L480.66,98.25 L480.10,100.40 L479.65,102.55 L479.32,104.67 L479.12,106.71 L479.04,108.65 L479.09,110.44 L479.27,112.07 L479.58,113.49 L480.01,114.69 L480.55,115.64 L481.19,116.34 L481.92,116.76 L482.74,116.90 L483.62,116.76 L484.55,116.34 L485.52,115.64 L486.51,114.69 L487.49,113.49 L488.47,112.07 L489.41,110.44 L490.30,108.65 L491.13,106.71 L491.88,104.67 L492.54,102.55 Z" fill-rule="evenodd"/>
<rect x="479.10" y="99.40" width="15.00" height="2.00"/>
</g>
<text x="568.4" y="100.8" font-family='"Liberation Sans", sans-serif' font-size="42.7px" font-weight="bold" font-style="normal" fill="#000" text-anchor="start" textLength="179.5" lengthAdjust="spacingAndGlyphs" stroke="#000" stroke-width="0.5">Effect on</text>
<text x="568.0" y="147.6" font-family='"Liberation Sans", sans-serif' font-size="42.7px" font-weight="bold" font-style="normal" fill="#000" text-anchor="start" textLength="213.5" lengthAdjust="spacingAndGlyphs" stroke="#000" stroke-width="0.5">phenotype</text>
<text x="680.4" y="288.8" font-family='"Liberation Sans", sans-serif' font-size="22.3px" font-weight="bold" font-style="normal" fill="#000" text-anchor="start" textLength="148.6" lengthAdjust="spacingAndGlyphs" stroke="#000" stroke-width="0.3">Chromosome</text>
<text x="92.7" y="368.9" font-family='"Liberation Sans", sans-serif' font-size="31.0px" font-weight="bold" font-style="normal" fill="#878787" text-anchor="middle" textLength="107.5" lengthAdjust="spacingAndGlyphs" stroke="#878787" stroke-width="0.5">Hidden</text>
<text x="92.9" y="403.2" font-family='"Liberation Sans", sans-serif' font-size="31.0px" font-weight="bold" font-style="normal" fill="#878787" text-anchor="middle" textLength="87.5" lengthAdjust="spacingAndGlyphs" stroke="#878787" stroke-width="0.5">effect</text>
<text x="147.5" y="445.6" font-family='"Liberation Serif", serif' font-size="25.0px" font-weight="normal" font-style="italic" fill="#000" text-anchor="start" stroke="#000" stroke-width="0.35">M</text>
<text x="167.5" y="451.2" font-family='"Liberation Serif", serif' font-size="17.5px" font-weight="normal" font-style="italic" fill="#000" text-anchor="start" stroke="#000" stroke-width="0.3">i</text>
<path d="M180.0,432.4 L193.8,446.2 M193.8,432.4 L180.0,446.2" stroke="#000" stroke-width="1.6" fill="none"/>
<text x="200.0" y="445.6" font-family='"Liberation Serif", serif' font-size="25.0px" font-weight="normal" font-style="italic" fill="#000" text-anchor="start" stroke="#000" stroke-width="0.35">M</text>
<text x="221.3" y="451.2" font-family='"Liberation Serif", serif' font-size="17.5px" font-weight="normal" font-style="italic" fill="#000" text-anchor="start" stroke="#000" stroke-width="0.3">i</text>
<text x="138.2" y="471.0" font-family='"Liberation Sans", sans-serif' font-size="21.0px" font-weight="bold" font-style="normal" fill="#000" text-anchor="start" textLength="98.2" lengthAdjust="spacingAndGlyphs" stroke="#000" stroke-width="0.3">LD matrix</text>
<text x="21.2" y="549.1" font-family='"Liberation Sans", sans-serif' font-size="31.0px" font-weight="bold" font-style="normal" fill="#000" text-anchor="start" textLength="147.2" lengthAdjust="spacingAndGlyphs" stroke="#000" stroke-width="0.5">Observed</text>
<text x="8.0" y="583.8" font-family='"Liberation Sans", sans-serif' font-size="31.0px" font-weight="bold" font-style="normal" fill="#000" text-anchor="start" textLength="174.8" lengthAdjust="spacingAndGlyphs" stroke="#000" stroke-width="0.5">association</text>
<text x="21.9" y="634.8" font-family='"Liberation Sans", sans-serif' font-size="31.0px" font-weight="bold" font-style="normal" fill="#2b5efb" text-anchor="start" textLength="146.6" lengthAdjust="spacingAndGlyphs" stroke="#2b5efb" stroke-width="0.5">Predicted</text>
<text x="35.8" y="675.9" font-family='"Liberation Sans", sans-serif' font-size="31.0px" font-weight="bold" font-style="normal" fill="#2b5efb" text-anchor="start" textLength="86.8" lengthAdjust="spacingAndGlyphs" stroke="#2b5efb" stroke-width="0.5">effect</text>
<g transform="translate(126.00,651.00) scale(0.5275) translate(-444.80,-51.10)" fill="#2b5efb">
<path d="M485.47,55.03 L485.43,54.92 L485.38,54.77 L485.32,54.54 L485.25,54.26 L485.17,53.94 L485.08,53.60 L484.98,53.24 L484.85,52.87 L484.71,52.49 L484.53,52.10 L484.31,51.71 L484.04,51.35 L483.76,51.06 L483.48,50.82 L483.19,50.60 L482.88,50.40 L482.56,50.22 L482.22,50.05 L481.87,49.91 L481.51,49.78 L481.13,49.67 L480.74,49.59 L480.34,49.54 L479.94,49.52 L479.56,49.52 L479.18,49.54 L478.79,49.57 L478.38,49.63 L477.96,49.71 L477.53,49.81 L477.09,49.95 L476.64,50.13 L476.18,50.34 L475.72,50.60 L475.27,50.90 L474.84,51.25 L474.42,51.63 L474.02,52.03 L473.64,52.46 L473.26,52.90 L472.90,53.37 L472.54,53.86 L472.19,54.36 L471.86,54.88 L471.54,55.40 L471.22,55.93 L470.92,56.47 L470.63,57.02 L470.35,57.60 L470.08,58.20 L469.82,58.80 L469.58,59.41 L469.35,60.03 L469.13,60.65 L468.92,61.28 L468.71,61.91 L468.51,62.54 L468.32,63.19 L468.12,63.83 L467.92,64.50 L467.72,65.19 L467.52,65.91 L467.33,66.64 L467.14,67.38 L466.96,68.13 L466.78,68.90 L466.60,69.67 L466.42,70.45 L466.24,71.23 L466.06,72.02 L465.88,72.81 L465.70,73.61 L465.52,74.43 L465.34,75.26 L465.16,76.10 L464.98,76.95 L464.80,77.81 L464.62,78.66 L464.44,79.52 L464.27,80.38 L464.09,81.24 L463.91,82.09 L463.73,82.94 L463.56,83.78 L463.37,84.63 L463.19,85.50 L463.00,86.38 L462.82,87.25 L462.63,88.13 L462.45,89.00 L462.26,89.85 L462.08,90.70 L461.90,91.52 L461.72,92.32 L461.55,93.09 L461.38,93.84 L461.21,94.58 L461.04,95.29 L460.88,95.99 L460.73,96.67 L460.57,97.33 L460.42,97.97 L460.26,98.60 L460.11,99.21 L459.96,99.81 L459.80,100.39 L459.64,100.97 L459.48,101.55 L459.31,102.12 L459.13,102.70 L458.96,103.27 L458.78,103.83 L458.60,104.38 L458.42,104.91 L458.24,105.44 L458.06,105.94 L457.87,106.43 L457.68,106.89 L457.49,107.33 L457.30,107.74 L457.11,108.14 L456.91,108.52 L456.71,108.89 L456.50,109.24 L456.29,109.58 L456.08,109.91 L455.86,110.21 L455.64,110.50 L455.42,110.77 L455.19,111.02 L454.96,111.25 L454.74,111.45 L454.52,111.63 L454.30,111.78 L454.07,111.91 L453.84,112.03 L453.61,112.12 L453.37,112.20 L453.14,112.27 L452.91,112.32 L452.68,112.35 L452.46,112.37 L452.24,112.38 L452.06,112.39 L451.90,112.38 L451.74,112.35 L451.56,112.30 L451.36,112.24 L451.16,112.16 L450.95,112.06 L450.75,111.95 L450.55,111.83 L450.37,111.71 L450.20,111.58 L450.04,111.46 L449.94,111.37 L449.90,111.32 L449.89,111.27 L449.87,111.21 L449.85,111.12 L449.83,111.02 L449.81,110.91 L449.80,110.78 L449.78,110.64 L449.76,110.49 L449.73,110.33 L449.69,110.13 L449.64,109.98 L446.61,111.24 L446.63,111.27 L446.66,111.30 L446.71,111.40 L446.78,111.55 L446.87,111.74 L446.97,111.96 L447.09,112.19 L447.23,112.44 L447.40,112.71 L447.61,112.98 L447.85,113.24 L448.12,113.48 L448.36,113.66 L448.59,113.82 L448.84,113.99 L449.11,114.16 L449.40,114.33 L449.70,114.49 L450.03,114.65 L450.36,114.80 L450.72,114.93 L451.09,115.04 L451.49,115.12 L451.88,115.17 L452.25,115.19 L452.61,115.18 L452.97,115.16 L453.34,115.11 L453.72,115.05 L454.10,114.97 L454.49,114.87 L454.87,114.75 L455.26,114.61 L455.65,114.45 L456.05,114.27 L456.44,114.07 L456.82,113.85 L457.20,113.63 L457.59,113.39 L457.98,113.13 L458.38,112.85 L458.77,112.55 L459.17,112.23 L459.57,111.89 L459.96,111.53 L460.35,111.14 L460.73,110.74 L461.11,110.31 L461.49,109.86 L461.86,109.39 L462.22,108.90 L462.59,108.39 L462.95,107.87 L463.30,107.33 L463.65,106.77 L463.99,106.21 L464.33,105.63 L464.65,105.04 L464.97,104.45 L465.27,103.84 L465.57,103.22 L465.86,102.59 L466.14,101.95 L466.41,101.30 L466.67,100.64 L466.92,99.98 L467.17,99.30 L467.41,98.61 L467.65,97.91 L467.88,97.19 L468.12,96.46 L468.35,95.70 L468.59,94.91 L468.82,94.10 L469.04,93.26 L469.27,92.40 L469.49,91.53 L469.70,90.65 L469.91,89.77 L470.12,88.89 L470.33,88.00 L470.53,87.13 L470.73,86.26 L470.92,85.41 L471.12,84.55 L471.31,83.68 L471.50,82.80 L471.69,81.93 L471.87,81.06 L472.05,80.20 L472.23,79.34 L472.40,78.49 L472.57,77.65 L472.74,76.82 L472.91,76.01 L473.08,75.21 L473.24,74.41 L473.41,73.61 L473.57,72.82 L473.74,72.04 L473.90,71.27 L474.05,70.51 L474.21,69.76 L474.36,69.02 L474.51,68.30 L474.65,67.60 L474.79,66.91 L474.93,66.23 L475.06,65.55 L475.19,64.87 L475.31,64.22 L475.43,63.59 L475.54,62.97 L475.64,62.38 L475.75,61.81 L475.85,61.26 L475.95,60.72 L476.06,60.21 L476.17,59.71 L476.29,59.22 L476.42,58.72 L476.56,58.20 L476.70,57.70 L476.84,57.20 L476.98,56.72 L477.13,56.26 L477.27,55.82 L477.42,55.41 L477.56,55.03 L477.70,54.69 L477.84,54.39 L477.97,54.14 L478.09,53.92 L478.22,53.72 L478.37,53.53 L478.53,53.36 L478.71,53.19 L478.90,53.04 L479.09,52.90 L479.30,52.78 L479.51,52.68 L479.72,52.59 L479.92,52.52 L480.11,52.47 L480.26,52.44 L480.41,52.43 L480.58,52.43 L480.75,52.46 L480.93,52.51 L481.11,52.58 L481.28,52.66 L481.44,52.75 L481.59,52.85 L481.72,52.95 L481.83,53.06 L481.89,53.13 L481.92,53.18 L481.95,53.29 L482.00,53.46 L482.05,53.68 L482.09,53.93 L482.12,54.20 L482.14,54.48 L482.17,54.77 L482.19,55.04 L482.21,55.31 L482.24,55.57 L482.27,55.78 Z"/>
<circle cx="483.64" cy="55.75" r="3.47"/>
<circle cx="448.46" cy="110.27" r="3.47"/>
<rect x="458.19" y="68.18" width="20.70" height="2.95"/>
</g>
<g transform="translate(141.00,667.00) scale(0.5193) translate(-474.6,-82.3)" fill="#2b5efb">
<path d="M498.30,100.40 L497.65,102.76 L496.81,105.08 L495.79,107.33 L494.61,109.45 L493.30,111.42 L491.88,113.20 L490.36,114.76 L488.78,116.08 L487.16,117.12 L485.54,117.88 L483.93,118.35 L482.36,118.50 L480.87,118.35 L479.48,117.88 L478.21,117.12 L477.08,116.08 L476.12,114.76 L475.33,113.20 L474.74,111.42 L474.35,109.45 L474.17,107.33 L474.20,105.08 L474.45,102.76 L474.90,100.40 L475.55,98.04 L476.39,95.72 L477.41,93.47 L478.59,91.35 L479.90,89.38 L481.32,87.60 L482.84,86.04 L484.42,84.72 L486.04,83.68 L487.66,82.92 L489.27,82.45 L490.84,82.30 L492.33,82.45 L493.72,82.92 L494.99,83.68 L496.12,84.72 L497.08,86.04 L497.87,87.60 L498.46,89.38 L498.85,91.35 L499.03,93.47 L499.00,95.72 L498.75,98.04 Z M491.80,100.40 L492.25,98.30 L492.60,96.23 L492.85,94.24 L492.99,92.35 L493.02,90.60 L492.94,89.02 L492.75,87.63 L492.46,86.46 L492.07,85.53 L491.58,84.85 L491.01,84.44 L490.37,84.30 L489.66,84.44 L488.89,84.85 L488.09,85.53 L487.26,86.46 L486.42,87.63 L485.59,89.02 L484.77,90.60 L483.98,92.35 L483.24,94.24 L482.55,96.23 L481.94,98.30 L481.40,100.40 L480.95,102.50 L480.60,104.57 L480.35,106.56 L480.21,108.45 L480.18,110.20 L480.26,111.78 L480.45,113.17 L480.74,114.34 L481.13,115.27 L481.62,115.95 L482.19,116.36 L482.83,116.50 L483.54,116.36 L484.31,115.95 L485.11,115.27 L485.94,114.34 L486.78,113.17 L487.61,111.78 L488.43,110.20 L489.22,108.45 L489.96,106.56 L490.65,104.57 L491.26,102.50 Z" fill-rule="evenodd"/>
<rect x="480.40" y="99.15" width="12.40" height="2.50"/>
</g>
<!-- panel -->
<rect x="520.6" y="411.5" width="345.6" height="272.3" rx="25" ry="25" fill="#ebebeb"/>
<text x="559.8" y="474.2" font-family='"Liberation Serif", serif' font-size="38.8px" font-weight="normal" font-style="normal" fill="#000" text-anchor="start" >∇</text>
<g transform="translate(589.00,463.60) scale(0.5967) translate(-474.6,-82.3)" fill="#000">
<path d="M498.30,100.40 L497.65,102.76 L496.81,105.08 L495.79,107.33 L494.61,109.45 L493.30,111.42 L491.88,113.20 L490.36,114.76 L488.78,116.08 L487.16,117.12 L485.54,117.88 L483.93,118.35 L482.36,118.50 L480.87,118.35 L479.48,117.88 L478.21,117.12 L477.08,116.08 L476.12,114.76 L475.33,113.20 L474.74,111.42 L474.35,109.45 L474.17,107.33 L474.20,105.08 L474.45,102.76 L474.90,100.40 L475.55,98.04 L476.39,95.72 L477.41,93.47 L478.59,91.35 L479.90,89.38 L481.32,87.60 L482.84,86.04 L484.42,84.72 L486.04,83.68 L487.66,82.92 L489.27,82.45 L490.84,82.30 L492.33,82.45 L493.72,82.92 L494.99,83.68 L496.12,84.72 L497.08,86.04 L497.87,87.60 L498.46,89.38 L498.85,91.35 L499.03,93.47 L499.00,95.72 L498.75,98.04 Z M492.32,100.40 L492.77,98.28 L493.11,96.19 L493.34,94.18 L493.46,92.27 L493.45,90.50 L493.34,88.90 L493.10,87.50 L492.76,86.32 L492.30,85.38 L491.76,84.69 L491.12,84.28 L490.40,84.14 L489.63,84.28 L488.79,84.69 L487.93,85.38 L487.04,86.32 L486.14,87.50 L485.25,88.90 L484.38,90.50 L483.55,92.27 L482.77,94.18 L482.06,96.19 L481.43,98.28 L480.88,100.40 L480.43,102.52 L480.09,104.61 L479.86,106.62 L479.74,108.53 L479.75,110.30 L479.86,111.90 L480.10,113.30 L480.44,114.48 L480.90,115.42 L481.44,116.11 L482.08,116.52 L482.80,116.66 L483.57,116.52 L484.41,116.11 L485.27,115.42 L486.16,114.48 L487.06,113.30 L487.95,111.90 L488.82,110.30 L489.65,108.53 L490.43,106.62 L491.14,104.61 L491.77,102.52 Z" fill-rule="evenodd"/>
<rect x="479.88" y="99.25" width="13.44" height="2.30"/>
</g>
<text x="606.2" y="474.2" font-family='"Liberation Serif", serif' font-size="41.5px" font-weight="normal" font-style="normal" fill="#000" text-anchor="start" textLength="185.6" lengthAdjust="spacingAndGlyphs" stroke="#000" stroke-width="0.3">Likelihood</text>
<text x="804.6" y="474.2" font-family='"Liberation Serif", serif' font-size="41.5px" font-weight="normal" font-style="normal" fill="#000" text-anchor="start" >:</text>
<text x="552.4" y="560.6" font-family='"Liberation Sans", sans-serif' font-size="33.0px" font-weight="bold" font-style="normal" fill="#000" text-anchor="start" textLength="102.2" lengthAdjust="spacingAndGlyphs" stroke="#000" stroke-width="0.5">Naive:</text>
<text x="683.6" y="560.6" font-family='"Liberation Sans", sans-serif' font-size="33.0px" font-weight="bold" font-style="normal" fill="#2b5efb" text-anchor="start" textLength="173.6" lengthAdjust="spacingAndGlyphs" stroke="#2b5efb" stroke-width="0.5">DeepWAS:</text>
<text x="539.0" y="634.6" font-family='"Liberation Serif", serif' font-size="47.0px" font-weight="normal" font-style="italic" fill="#000" text-anchor="start" textLength="36.5" lengthAdjust="spacingAndGlyphs" stroke="#000" stroke-width="0.6">O</text>
<text x="574.8" y="634.6" font-family='"Liberation Serif", serif' font-size="47.0px" font-weight="normal" font-style="normal" fill="#000" text-anchor="start" stroke="#000" stroke-width="0.6">(</text>
<text x="589.8" y="634.6" font-family='"Liberation Serif", serif' font-size="47.0px" font-weight="normal" font-style="italic" fill="#000" text-anchor="start" textLength="45.0" lengthAdjust="spacingAndGlyphs" stroke="#000" stroke-width="0.6">M</text>
<text x="633.8" y="614.4" font-family='"Liberation Serif", serif' font-size="33.0px" font-weight="normal" font-style="normal" fill="#000" text-anchor="start" stroke="#000" stroke-width="0.4">3</text>
<text x="631.4" y="650.0" font-family='"Liberation Serif", serif' font-size="33.0px" font-weight="normal" font-style="italic" fill="#000" text-anchor="start" stroke="#000" stroke-width="0.4">i</text>
<text x="654.0" y="634.6" font-family='"Liberation Serif", serif' font-size="47.0px" font-weight="normal" font-style="normal" fill="#000" text-anchor="start" stroke="#000" stroke-width="0.6">)</text>
<rect x="532.1" y="618" width="143.6" height="2.5" fill="#000"/>
<text x="704.8" y="634.6" font-family='"Liberation Serif", serif' font-size="47.0px" font-weight="normal" font-style="italic" fill="#2b5efb" text-anchor="start" textLength="36.5" lengthAdjust="spacingAndGlyphs" stroke="#2b5efb" stroke-width="0.6">O</text>
<text x="740.6" y="634.6" font-family='"Liberation Serif", serif' font-size="47.0px" font-weight="normal" font-style="normal" fill="#2b5efb" text-anchor="start" stroke="#2b5efb" stroke-width="0.6">(</text>
<text x="755.6" y="634.6" font-family='"Liberation Serif", serif' font-size="47.0px" font-weight="normal" font-style="italic" fill="#2b5efb" text-anchor="start" textLength="45.0" lengthAdjust="spacingAndGlyphs" stroke="#2b5efb" stroke-width="0.6">M</text>
<text x="799.6" y="614.4" font-family='"Liberation Serif", serif' font-size="33.0px" font-weight="normal" font-style="normal" fill="#2b5efb" text-anchor="start" stroke="#2b5efb" stroke-width="0.4">2</text>
<text x="797.2" y="650.0" font-family='"Liberation Serif", serif' font-size="33.0px" font-weight="normal" font-style="italic" fill="#2b5efb" text-anchor="start" stroke="#2b5efb" stroke-width="0.4">i</text>
<text x="819.8" y="634.6" font-family='"Liberation Serif", serif' font-size="47.0px" font-weight="normal" font-style="normal" fill="#2b5efb" text-anchor="start" stroke="#2b5efb" stroke-width="0.6">)</text>
</svg></body></html>
